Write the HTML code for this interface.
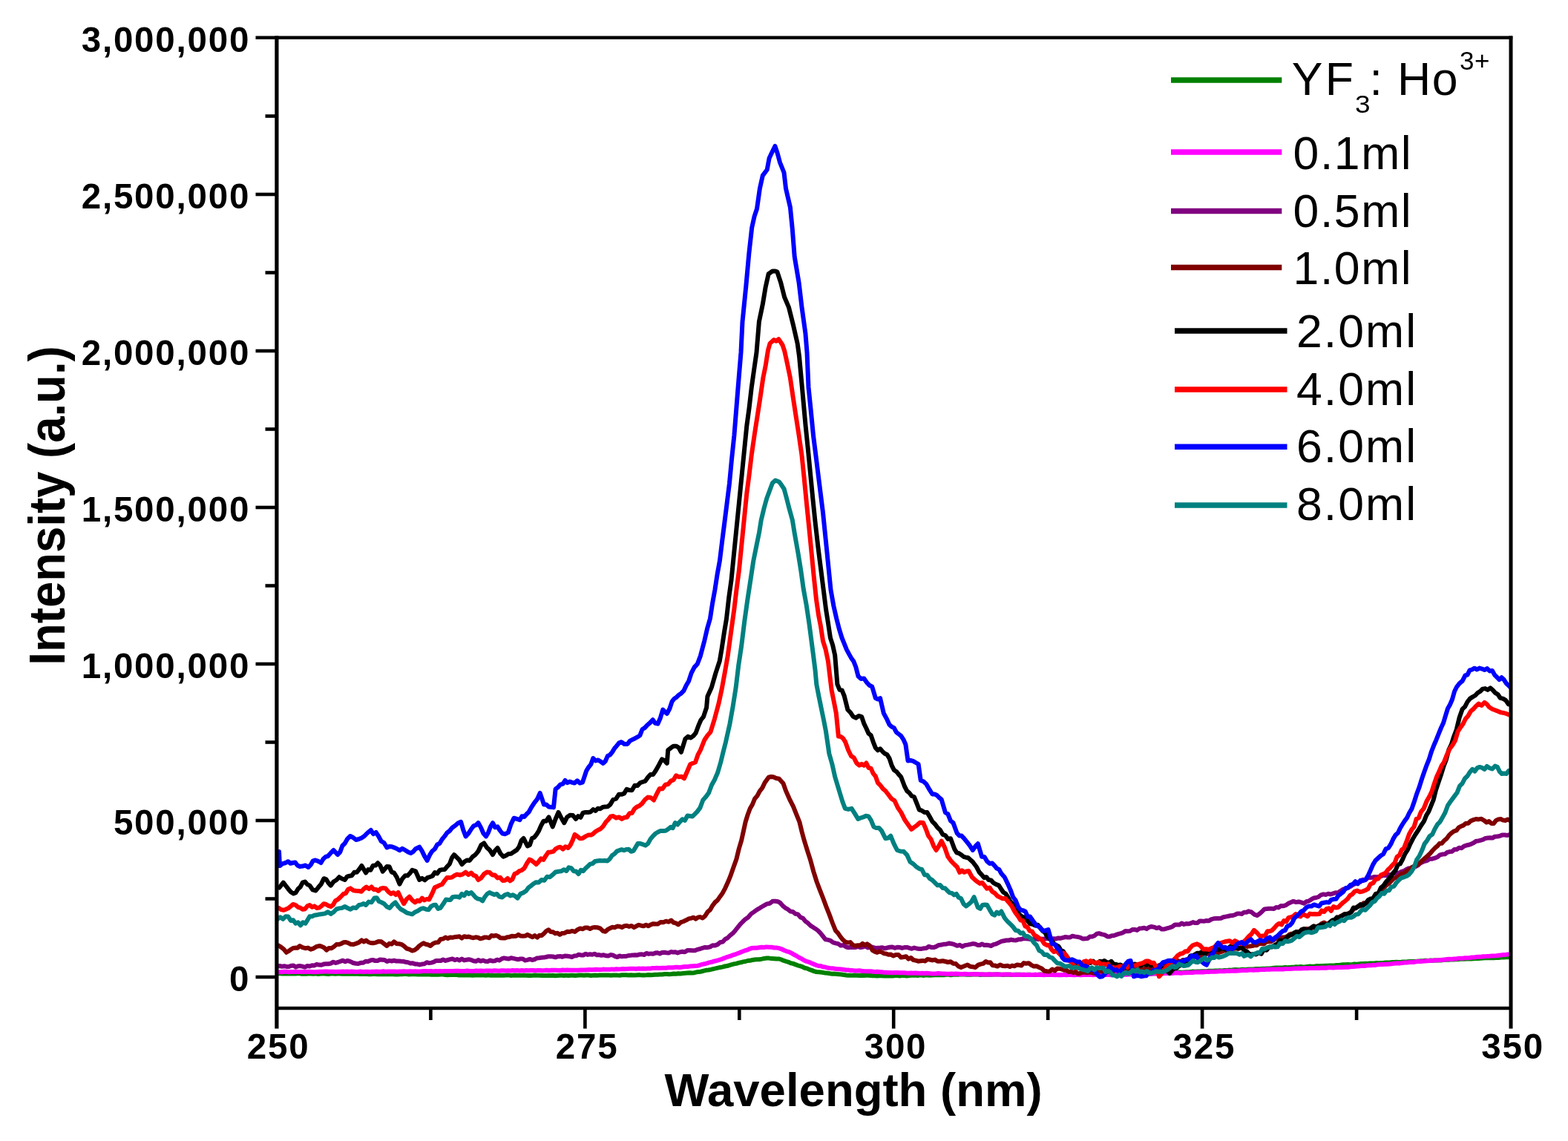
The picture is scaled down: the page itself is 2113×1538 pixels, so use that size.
<!DOCTYPE html>
<html><head><meta charset="utf-8"><title>Intensity vs Wavelength</title>
<style>html,body{margin:0;padding:0;background:#fff;width:2113px;height:1538px;overflow:hidden}svg{display:block}</style>
</head><body>
<svg width="2113" height="1538" viewBox="0 0 2113 1538">
<rect width="100%" height="100%" fill="#ffffff"/>
<clipPath id="pc"><rect x="372.5" y="50.8" width="1663.5" height="1308.2"/></clipPath>
<g clip-path="url(#pc)" fill="none" stroke-linejoin="round" stroke-linecap="round">
<path d="M373.8 1312.3L376.8 1312.1L379.8 1312.5L382.8 1312.5L385.8 1312.2L388.8 1312.4L391.8 1312.4L394.8 1312.5L397.8 1312.6L400.8 1312.2L403.8 1312.2L406.8 1312.7L409.8 1312.5L412.8 1312.7L415.8 1312.2L418.8 1312.5L421.9 1312.7L424.9 1312.4L427.9 1312.9L430.9 1312.8L433.9 1312.3L436.9 1312.4L439.9 1312.7L442.9 1312.9L445.9 1312.6L448.9 1312.5L451.9 1312.7L454.9 1312.5L457.9 1312.6L460.9 1312.7L463.9 1312.8L466.9 1312.6L469.9 1312.7L472.9 1312.7L475.9 1312.8L478.9 1312.7L481.9 1312.6L484.9 1313.1L487.9 1312.9L490.9 1313.0L493.9 1312.8L496.9 1313.3L499.9 1313.2L502.9 1312.8L505.9 1312.9L508.9 1313.2L511.9 1313.2L515.0 1313.3L518.0 1313.0L521.0 1313.3L524.0 1313.2L527.0 1313.0L530.0 1313.2L533.0 1313.4L536.0 1313.4L539.0 1313.2L542.0 1313.3L545.0 1312.9L548.0 1313.1L551.0 1313.4L554.0 1313.2L557.0 1313.1L560.0 1313.3L563.1 1313.4L566.2 1313.5L569.2 1313.5L572.3 1313.4L575.4 1313.5L578.5 1313.6L581.5 1313.8L584.6 1313.7L587.7 1313.7L590.8 1313.8L593.8 1313.5L596.9 1313.6L600.0 1314.0L603.1 1314.2L606.2 1314.0L609.2 1314.0L612.3 1313.9L615.4 1314.1L618.5 1314.5L621.5 1314.4L624.6 1314.3L627.7 1314.5L630.8 1314.2L633.8 1314.4L636.9 1314.7L640.0 1314.5L643.0 1314.6L646.0 1314.5L649.0 1314.4L652.0 1314.6L655.0 1314.8L658.0 1314.3L661.0 1314.8L664.0 1314.8L667.0 1314.8L670.0 1314.8L673.0 1314.8L676.0 1314.7L679.0 1314.7L682.0 1314.6L685.0 1314.4L688.0 1314.9L691.0 1314.8L694.0 1314.5L697.0 1314.7L700.0 1314.7L703.0 1314.7L706.0 1314.7L709.0 1314.8L712.0 1314.9L715.0 1314.9L718.0 1314.8L721.0 1314.6L724.0 1314.7L727.0 1314.7L730.0 1314.9L733.0 1315.1L736.0 1315.1L739.0 1315.1L742.0 1315.1L745.0 1314.8L748.0 1315.2L751.0 1315.1L754.0 1314.7L757.0 1314.7L760.0 1315.0L763.0 1314.7L766.0 1315.1L769.0 1314.8L772.0 1314.7L775.0 1315.0L778.0 1314.8L781.0 1314.6L784.0 1314.6L787.0 1314.8L790.0 1314.6L793.0 1314.6L796.0 1314.9L799.0 1314.7L802.0 1314.6L805.0 1314.7L808.0 1314.4L811.0 1314.6L814.0 1314.6L817.0 1314.4L820.1 1314.4L823.1 1314.8L826.1 1314.6L829.1 1314.4L832.1 1314.6L835.1 1314.7L838.1 1314.2L841.1 1314.2L844.1 1314.2L847.1 1314.5L850.1 1314.2L853.1 1314.5L856.1 1314.5L859.1 1314.3L862.1 1314.1L865.1 1314.6L868.1 1314.4L871.1 1314.3L874.1 1314.1L877.1 1314.2L880.2 1314.1L883.3 1313.8L886.3 1313.8L889.4 1313.5L892.5 1313.5L895.6 1313.0L898.7 1313.0L901.7 1313.2L904.8 1313.0L907.9 1312.5L911.0 1312.7L914.0 1312.2L917.1 1312.4L920.2 1312.1L923.3 1311.8L926.4 1311.5L929.4 1311.2L932.5 1311.6L935.6 1311.2L938.8 1310.3L942.0 1310.1L945.1 1309.5L948.3 1308.6L951.5 1307.8L954.7 1307.5L957.9 1306.9L961.1 1306.1L964.2 1305.4L967.4 1304.6L970.6 1304.0L973.8 1303.4L976.9 1302.5L979.9 1302.0L983.0 1301.1L986.1 1300.2L989.2 1299.3L992.2 1298.9L995.3 1297.9L998.4 1297.3L1001.5 1296.4L1004.5 1296.0L1007.6 1295.0L1010.8 1294.8L1014.0 1293.9L1017.1 1293.5L1020.3 1293.2L1023.5 1293.2L1026.7 1292.6L1029.8 1291.9L1033.0 1291.6L1036.4 1291.6L1039.8 1292.1L1043.1 1292.3L1046.5 1292.6L1049.9 1292.5L1053.0 1293.5L1056.2 1294.9L1059.3 1295.9L1062.5 1296.8L1065.6 1298.2L1068.8 1298.9L1071.9 1300.1L1075.0 1301.3L1078.1 1302.1L1081.3 1303.2L1084.4 1304.7L1087.5 1305.4L1090.6 1306.9L1093.8 1307.9L1096.9 1309.1L1100.0 1310.0L1103.1 1310.3L1106.2 1310.6L1109.2 1310.9L1112.3 1311.6L1115.4 1311.8L1118.5 1312.3L1121.5 1312.7L1124.6 1312.6L1127.7 1313.1L1130.8 1313.2L1133.8 1313.5L1136.9 1313.9L1140.0 1314.5L1143.0 1314.8L1146.0 1314.8L1149.0 1314.8L1152.0 1314.6L1155.0 1314.8L1158.0 1315.0L1161.0 1314.8L1164.0 1314.9L1167.0 1314.8L1170.0 1314.7L1173.0 1314.9L1176.0 1315.3L1179.0 1315.2L1182.0 1315.5L1185.0 1315.2L1188.0 1315.2L1191.0 1315.5L1194.0 1315.6L1197.0 1315.2L1200.0 1315.5L1203.1 1315.5L1206.2 1315.1L1209.4 1315.1L1212.5 1315.5L1215.6 1314.9L1218.8 1315.0L1221.9 1315.4L1225.0 1315.0L1228.1 1314.7L1231.2 1314.7L1234.4 1314.7L1237.5 1314.9L1240.6 1314.4L1243.8 1314.9L1246.9 1314.5L1250.0 1314.5L1253.1 1314.7L1256.2 1314.6L1259.4 1314.2L1262.5 1314.1L1265.6 1314.2L1268.8 1313.9L1271.9 1314.2L1275.0 1313.7L1278.1 1313.6L1281.2 1314.2L1284.4 1313.7L1287.5 1313.8L1290.6 1313.7L1293.8 1313.5L1296.9 1313.3L1300.0 1313.5L1303.0 1313.8L1306.0 1313.8L1309.1 1313.8L1312.1 1313.3L1315.1 1313.4L1318.1 1313.6L1321.2 1313.9L1324.2 1313.6L1327.2 1313.7L1330.2 1313.7L1333.3 1313.5L1336.3 1313.7L1339.3 1313.5L1342.3 1313.5L1345.3 1313.4L1348.4 1313.6L1351.4 1314.0L1354.4 1313.7L1357.4 1313.8L1360.5 1313.8L1363.5 1314.0L1366.5 1313.7L1369.5 1313.7L1372.6 1313.7L1375.6 1313.7L1378.6 1314.0L1381.6 1314.1L1384.7 1313.7L1387.7 1313.7L1390.7 1313.9L1393.7 1313.9L1396.7 1313.9L1399.8 1313.7L1402.8 1313.6L1405.8 1313.8L1408.8 1313.7L1411.9 1314.0L1414.9 1313.7L1417.9 1313.7L1420.9 1314.0L1424.0 1313.9L1427.0 1314.2L1430.0 1314.0L1433.0 1314.0L1436.0 1314.1L1439.0 1313.7L1442.0 1313.9L1445.0 1314.0L1448.0 1313.5L1451.0 1314.0L1454.0 1313.5L1457.0 1313.8L1460.0 1313.9L1463.0 1313.8L1466.0 1313.4L1469.0 1313.3L1472.0 1313.5L1475.0 1313.7L1478.0 1313.3L1481.0 1313.6L1484.0 1313.1L1487.0 1313.5L1490.0 1313.0L1493.0 1313.1L1496.0 1313.4L1499.0 1313.3L1502.0 1313.3L1505.0 1313.3L1508.0 1313.2L1511.0 1313.1L1514.0 1312.8L1517.0 1312.9L1520.0 1312.7L1523.0 1313.0L1526.0 1312.9L1529.0 1312.6L1532.0 1312.5L1535.0 1313.0L1538.0 1312.8L1541.0 1312.6L1544.0 1312.6L1547.0 1312.7L1550.0 1312.5L1553.0 1312.3L1556.1 1312.2L1559.1 1312.0L1562.1 1311.8L1565.2 1311.5L1568.2 1311.8L1571.2 1311.5L1574.2 1311.5L1577.3 1311.0L1580.3 1311.0L1583.3 1310.8L1586.4 1310.6L1589.4 1310.6L1592.4 1310.8L1595.5 1310.4L1598.5 1310.3L1601.5 1310.2L1604.5 1309.9L1607.6 1309.6L1610.6 1309.8L1613.6 1309.6L1616.7 1309.6L1619.7 1309.3L1622.7 1309.3L1625.8 1309.2L1628.8 1308.8L1631.8 1308.8L1634.8 1308.7L1637.9 1308.4L1640.9 1308.4L1643.9 1308.3L1647.0 1308.4L1650.0 1308.0L1653.0 1308.1L1656.0 1307.6L1659.1 1307.7L1662.1 1307.2L1665.1 1307.0L1668.1 1307.2L1671.2 1307.2L1674.2 1306.7L1677.2 1306.9L1680.2 1306.8L1683.3 1306.4L1686.3 1306.4L1689.3 1306.4L1692.3 1306.0L1695.3 1306.0L1698.4 1305.9L1701.4 1305.7L1704.4 1305.7L1707.4 1305.6L1710.5 1305.5L1713.5 1305.1L1716.5 1304.7L1719.5 1304.6L1722.6 1304.5L1725.6 1304.6L1728.6 1304.5L1731.6 1304.0L1734.7 1304.2L1737.7 1304.1L1740.7 1303.7L1743.7 1303.7L1746.7 1303.3L1749.8 1303.5L1752.8 1303.0L1755.8 1303.4L1758.8 1303.2L1761.9 1302.9L1764.9 1302.6L1767.9 1302.8L1770.9 1302.7L1774.0 1302.1L1777.0 1302.3L1780.0 1302.0L1783.0 1302.1L1786.0 1301.8L1789.0 1301.7L1792.0 1301.4L1795.0 1301.5L1798.0 1301.4L1801.0 1300.9L1804.0 1301.0L1807.0 1300.6L1810.0 1300.3L1813.0 1300.2L1816.0 1300.0L1819.0 1300.3L1822.0 1300.2L1825.0 1299.5L1828.0 1299.7L1831.0 1299.4L1834.0 1299.1L1837.0 1299.0L1840.0 1298.8L1843.0 1299.0L1846.0 1298.4L1849.0 1298.4L1852.0 1298.4L1855.0 1298.0L1858.0 1298.2L1861.0 1298.0L1864.0 1298.0L1867.0 1297.5L1870.0 1297.4L1873.0 1297.4L1876.0 1297.1L1879.0 1297.1L1882.0 1296.8L1885.0 1296.9L1888.0 1296.8L1891.0 1296.6L1894.0 1296.6L1897.0 1296.2L1900.0 1296.0L1903.1 1295.9L1906.1 1295.9L1909.2 1295.8L1912.3 1295.5L1915.3 1295.2L1918.4 1295.1L1921.5 1294.8L1924.5 1295.1L1927.6 1294.5L1930.7 1294.8L1933.7 1294.5L1936.8 1294.6L1939.9 1294.4L1942.9 1294.4L1946.0 1293.7L1949.1 1293.8L1952.1 1293.7L1955.2 1293.4L1958.3 1293.4L1961.3 1293.2L1964.4 1293.2L1967.5 1292.7L1970.5 1292.8L1973.6 1292.7L1976.6 1292.5L1979.7 1292.4L1982.8 1292.5L1985.8 1292.3L1988.9 1292.0L1992.0 1292.0L1995.0 1291.7L1998.1 1291.5L2001.2 1291.2L2004.2 1291.2L2007.3 1291.3L2010.4 1291.3L2013.4 1291.2L2016.5 1290.8L2019.6 1291.0L2022.6 1290.5L2025.7 1290.6L2028.8 1290.2L2031.8 1290.3L2034.9 1290.0" stroke="#008000" stroke-width="6.0"/>
<path d="M373.8 1310.0L376.8 1310.3L379.9 1310.3L382.9 1309.7L385.9 1309.7L388.9 1310.2L392.0 1310.1L395.0 1310.1L398.0 1309.8L401.1 1310.0L404.1 1310.0L407.1 1310.0L410.2 1309.7L413.2 1309.9L416.2 1309.8L419.2 1310.0L422.3 1310.2L425.3 1310.2L428.3 1309.9L431.4 1309.8L434.4 1309.7L437.4 1309.6L440.5 1309.6L443.5 1309.8L446.5 1309.7L449.6 1309.8L452.6 1310.1L455.6 1309.8L458.6 1309.8L461.7 1309.6L464.7 1309.8L467.8 1309.5L470.8 1309.7L473.9 1309.5L476.9 1309.7L480.0 1310.0L483.0 1309.8L486.1 1309.5L489.1 1309.9L492.2 1309.8L495.2 1309.8L498.3 1309.9L501.3 1309.8L504.4 1309.8L507.4 1309.5L510.5 1309.8L513.5 1309.8L516.6 1309.3L519.6 1309.7L522.7 1309.6L525.7 1309.5L528.8 1309.5L531.8 1309.4L534.9 1309.7L537.9 1309.4L541.0 1309.6L544.0 1309.3L547.1 1309.6L550.1 1309.6L553.2 1309.3L556.2 1309.4L559.3 1309.3L562.4 1309.5L565.4 1309.4L568.5 1309.2L571.5 1309.0L574.6 1309.1L577.6 1309.3L580.7 1308.9L583.7 1309.4L586.8 1309.0L589.8 1309.3L592.9 1308.9L596.0 1309.3L599.0 1309.1L602.1 1309.0L605.1 1309.0L608.2 1309.0L611.2 1309.0L614.3 1308.8L617.3 1308.7L620.4 1308.9L623.5 1309.1L626.5 1308.9L629.6 1308.5L632.6 1309.0L635.7 1308.9L638.7 1309.0L641.8 1308.5L644.8 1308.8L647.9 1308.4L650.9 1308.7L654.0 1308.6L657.1 1308.4L660.1 1308.4L663.2 1308.8L666.3 1308.3L669.3 1308.5L672.4 1308.7L675.5 1308.3L678.5 1308.3L681.6 1308.6L684.7 1308.3L687.7 1308.5L690.8 1308.1L693.9 1308.2L696.9 1308.1L700.0 1308.4L703.1 1308.0L706.1 1308.5L709.2 1307.9L712.3 1308.3L715.4 1307.9L718.4 1308.0L721.5 1308.3L724.6 1307.9L727.6 1307.9L730.7 1308.2L733.8 1308.0L736.8 1307.7L739.9 1308.3L743.0 1307.8L746.0 1307.7L749.1 1307.8L752.2 1308.0L755.2 1308.0L758.3 1307.6L761.4 1307.7L764.4 1307.5L767.5 1307.8L770.5 1307.7L773.5 1307.8L776.5 1307.8L779.5 1307.8L782.5 1307.6L785.5 1307.6L788.5 1307.5L791.5 1307.3L794.5 1307.1L797.5 1307.3L800.5 1307.0L803.5 1306.8L806.5 1306.9L809.5 1307.1L812.5 1306.6L815.6 1306.8L818.6 1306.7L821.6 1306.7L824.6 1306.4L827.6 1306.8L830.6 1306.3L833.6 1306.5L836.6 1306.3L839.6 1306.0L842.6 1306.3L845.6 1305.9L848.6 1305.8L851.6 1305.7L854.6 1305.8L857.6 1305.9L860.7 1305.6L863.8 1305.8L866.8 1305.6L869.9 1305.8L873.0 1305.6L876.1 1305.6L879.2 1305.0L882.2 1305.0L885.3 1304.8L888.4 1304.9L891.5 1304.8L894.5 1304.8L897.6 1304.7L900.7 1304.3L903.8 1304.3L906.9 1304.2L909.9 1303.8L913.0 1303.7L916.1 1303.9L919.5 1303.5L922.9 1303.1L926.3 1303.1L929.8 1302.5L933.2 1302.2L936.6 1301.9L940.0 1301.8L943.2 1300.8L946.4 1299.9L949.5 1299.3L952.7 1298.4L955.9 1297.4L959.0 1296.8L962.2 1295.7L965.4 1295.0L968.6 1294.2L971.7 1293.2L974.9 1291.9L978.0 1290.7L981.2 1289.7L984.4 1288.7L987.5 1287.3L990.7 1286.5L993.8 1285.3L997.0 1284.1L1000.1 1282.7L1003.3 1281.5L1006.4 1280.7L1009.6 1279.2L1012.7 1278.1L1016.1 1277.8L1019.5 1277.8L1022.9 1277.3L1026.2 1276.8L1029.6 1277.0L1033.0 1276.4L1036.4 1276.7L1039.8 1276.8L1043.1 1277.5L1046.5 1277.5L1049.9 1278.1L1053.3 1279.3L1056.7 1281.0L1060.0 1282.3L1063.4 1283.2L1066.8 1284.9L1070.2 1286.8L1073.6 1288.7L1076.9 1290.7L1080.3 1292.4L1083.7 1294.5L1087.0 1295.9L1090.2 1296.8L1093.5 1298.3L1096.7 1299.6L1100.0 1301.0L1103.0 1302.0L1106.0 1302.1L1109.0 1303.3L1112.0 1303.6L1115.0 1304.5L1118.1 1304.9L1121.2 1305.2L1124.4 1305.6L1127.5 1306.2L1130.6 1306.3L1133.8 1306.5L1136.9 1306.9L1140.0 1307.5L1143.0 1307.4L1146.0 1308.1L1149.0 1308.1L1152.0 1308.5L1155.0 1308.5L1158.0 1308.3L1161.0 1308.8L1164.0 1309.1L1167.0 1309.2L1170.0 1309.2L1173.0 1309.3L1176.0 1309.6L1179.0 1310.0L1182.0 1309.8L1185.0 1310.1L1188.0 1310.3L1191.0 1310.7L1194.0 1310.8L1197.0 1311.1L1200.0 1311.0L1203.0 1311.3L1206.1 1311.0L1209.1 1311.0L1212.2 1311.3L1215.2 1311.2L1218.3 1311.3L1221.3 1311.6L1224.3 1311.8L1227.4 1311.6L1230.4 1311.8L1233.5 1311.5L1236.5 1311.7L1239.6 1312.1L1242.6 1311.7L1245.7 1311.9L1248.7 1311.8L1251.7 1311.9L1254.8 1312.4L1257.8 1312.5L1260.9 1312.4L1263.9 1312.1L1267.0 1312.3L1270.0 1312.5L1273.0 1312.4L1276.1 1312.7L1279.1 1312.7L1282.2 1312.6L1285.2 1312.7L1288.3 1312.5L1291.3 1312.8L1294.3 1313.1L1297.4 1313.0L1300.4 1312.7L1303.5 1313.0L1306.5 1313.2L1309.6 1312.9L1312.6 1313.3L1315.7 1313.1L1318.7 1313.3L1321.7 1313.2L1324.8 1313.6L1327.8 1313.5L1330.9 1313.4L1333.9 1313.2L1337.0 1313.4L1340.0 1313.5L1343.0 1313.2L1346.1 1313.6L1349.1 1313.8L1352.1 1313.4L1355.2 1313.6L1358.2 1313.6L1361.2 1313.6L1364.3 1313.8L1367.3 1313.9L1370.3 1313.8L1373.4 1313.7L1376.4 1314.0L1379.4 1313.6L1382.5 1313.9L1385.5 1313.9L1388.6 1313.9L1391.6 1314.0L1394.6 1313.6L1397.7 1313.9L1400.7 1313.8L1403.7 1314.0L1406.8 1314.2L1409.8 1314.0L1412.8 1313.6L1415.9 1313.9L1418.9 1314.1L1421.9 1314.2L1425.0 1314.1L1428.0 1314.0L1431.0 1314.2L1434.0 1313.7L1437.0 1314.3L1440.0 1314.1L1443.0 1314.1L1446.0 1314.2L1449.0 1314.2L1452.0 1313.8L1455.0 1314.2L1458.0 1314.2L1461.0 1313.8L1464.0 1314.1L1467.0 1314.1L1470.0 1313.8L1473.0 1314.2L1476.0 1313.8L1479.0 1314.1L1482.0 1314.0L1485.0 1313.9L1488.0 1314.0L1491.0 1314.0L1494.0 1313.8L1497.0 1314.3L1500.0 1314.0L1503.0 1313.7L1506.1 1313.5L1509.1 1313.8L1512.2 1313.9L1515.2 1313.7L1518.3 1313.7L1521.3 1313.4L1524.4 1313.5L1527.4 1313.2L1530.5 1313.1L1533.5 1313.1L1536.6 1312.8L1539.6 1312.7L1542.7 1313.0L1545.7 1312.6L1548.8 1312.9L1551.8 1312.8L1554.9 1312.5L1557.9 1312.6L1561.0 1312.6L1564.0 1312.5L1567.1 1312.0L1570.1 1312.0L1573.2 1312.0L1576.2 1312.0L1579.3 1311.9L1582.4 1311.6L1585.5 1311.3L1588.5 1311.5L1591.6 1311.7L1594.7 1311.2L1597.8 1311.2L1600.9 1311.0L1604.0 1310.9L1607.1 1311.0L1610.2 1310.5L1613.2 1310.6L1616.3 1310.4L1619.4 1310.3L1622.5 1310.4L1625.6 1309.8L1628.7 1310.1L1631.8 1309.7L1634.9 1309.8L1637.9 1309.7L1641.0 1309.5L1644.1 1309.3L1647.2 1309.2L1650.2 1309.3L1653.3 1308.7L1656.3 1308.9L1659.3 1308.7L1662.4 1308.6L1665.4 1308.7L1668.4 1308.6L1671.5 1308.3L1674.5 1308.0L1677.5 1307.9L1680.6 1307.9L1683.6 1307.6L1686.6 1307.5L1689.7 1307.8L1692.7 1307.2L1695.7 1307.5L1698.8 1307.1L1701.8 1307.0L1704.8 1306.9L1707.9 1306.6L1710.9 1306.7L1713.9 1306.4L1717.0 1306.5L1720.0 1306.4L1723.0 1306.2L1726.1 1306.5L1729.1 1306.4L1732.2 1306.0L1735.2 1306.0L1738.3 1306.1L1741.3 1305.7L1744.4 1305.4L1747.4 1305.4L1750.5 1305.3L1753.5 1305.5L1756.6 1305.2L1759.6 1305.1L1762.7 1305.3L1765.7 1304.9L1768.8 1305.1L1771.8 1304.9L1774.9 1304.7L1777.9 1304.9L1781.0 1304.5L1784.0 1304.7L1787.1 1304.7L1790.1 1304.3L1793.2 1304.3L1796.2 1304.4L1799.3 1304.2L1802.3 1304.1L1805.4 1304.1L1808.4 1304.0L1811.5 1303.8L1814.5 1303.6L1817.5 1303.7L1820.5 1303.0L1823.5 1303.0L1826.6 1302.8L1829.6 1302.4L1832.6 1302.2L1835.6 1301.8L1838.6 1302.1L1841.6 1301.5L1844.6 1301.3L1847.6 1301.3L1850.7 1300.7L1853.7 1300.9L1856.7 1300.2L1859.7 1299.9L1862.7 1299.9L1865.7 1299.7L1868.7 1299.8L1871.8 1299.5L1874.8 1299.2L1877.8 1298.8L1880.8 1298.6L1883.8 1298.2L1886.8 1298.4L1889.8 1297.9L1892.8 1297.6L1895.9 1297.6L1898.9 1297.1L1901.9 1296.9L1904.9 1297.1L1907.9 1296.3L1910.9 1296.1L1913.9 1296.0L1916.9 1295.8L1920.0 1295.6L1923.0 1295.3L1926.0 1295.1L1929.0 1295.0L1932.0 1294.6L1935.1 1294.4L1938.1 1294.3L1941.1 1293.9L1944.1 1293.7L1947.2 1293.7L1950.2 1293.0L1953.2 1292.8L1956.2 1293.0L1959.3 1292.5L1962.3 1292.5L1965.3 1291.8L1968.3 1291.8L1971.4 1291.8L1974.4 1291.2L1977.4 1291.2L1980.4 1290.9L1983.5 1290.5L1986.5 1290.6L1989.5 1290.0L1992.5 1289.8L1995.6 1289.7L1998.6 1289.2L2001.6 1289.3L2004.6 1288.9L2007.7 1288.7L2010.7 1288.4L2013.7 1288.4L2016.7 1288.2L2019.8 1287.8L2022.8 1287.4L2025.8 1287.1L2028.8 1286.9L2031.9 1286.4L2034.9 1286.4" stroke="#FF00FF" stroke-width="6.0"/>
<path d="M373.8 1302.6L376.9 1302.0L380.0 1302.7L383.1 1302.3L386.2 1302.9L389.3 1303.0L392.4 1301.7L395.5 1301.6L398.6 1303.6L401.7 1302.2L404.8 1302.1L407.9 1302.8L411.1 1303.6L414.2 1302.0L417.4 1302.5L420.5 1301.3L423.7 1301.4L426.8 1299.8L430.0 1300.6L433.1 1300.8L436.3 1299.6L439.5 1299.2L442.7 1299.2L445.9 1298.6L449.1 1296.7L452.4 1297.9L455.6 1297.0L458.8 1295.8L462.0 1294.7L465.2 1296.2L468.4 1294.9L472.2 1296.1L476.0 1298.0L479.8 1298.7L483.0 1298.9L486.3 1297.8L489.5 1297.7L492.8 1295.7L496.0 1296.0L499.3 1294.5L502.5 1293.9L505.7 1295.1L508.8 1295.1L512.0 1293.4L515.1 1293.7L518.3 1294.0L521.5 1296.0L524.6 1294.9L527.8 1295.5L530.9 1294.8L534.1 1295.5L537.2 1295.4L540.4 1295.8L543.6 1295.9L546.7 1296.8L549.9 1297.3L553.0 1298.5L556.2 1298.3L559.3 1299.4L562.5 1299.6L565.6 1300.4L568.8 1299.6L571.9 1299.2L575.1 1297.2L578.2 1298.1L581.4 1297.6L584.6 1296.7L587.7 1294.9L590.8 1294.9L594.0 1295.0L597.1 1293.6L600.3 1294.9L603.4 1294.0L606.6 1293.1L609.7 1292.4L612.9 1294.1L616.0 1293.0L619.2 1294.4L622.3 1292.5L625.5 1294.4L628.7 1293.7L631.8 1293.3L635.0 1293.9L638.2 1295.3L641.3 1295.8L644.5 1294.0L647.7 1295.6L650.8 1294.5L654.0 1295.8L657.2 1295.9L660.3 1294.5L663.5 1295.4L666.6 1295.3L669.8 1293.7L672.9 1294.5L676.1 1292.4L679.2 1291.4L682.4 1292.0L685.6 1292.5L688.7 1291.3L691.9 1291.9L695.0 1292.6L698.2 1293.3L701.3 1292.4L704.5 1292.4L707.6 1294.6L710.8 1293.9L713.9 1292.9L717.1 1294.0L720.2 1293.3L723.4 1291.5L726.5 1291.2L729.7 1290.8L732.8 1290.6L736.0 1290.0L739.1 1289.2L742.3 1289.3L745.4 1289.5L748.6 1290.3L751.7 1289.2L754.9 1289.0L758.0 1289.7L761.2 1288.6L764.3 1288.7L767.5 1289.2L770.6 1290.0L773.6 1288.6L776.7 1288.3L779.8 1286.7L782.8 1287.4L785.9 1287.5L789.0 1285.8L792.0 1286.9L795.1 1286.3L798.2 1286.8L801.2 1285.7L804.3 1287.2L807.4 1287.1L810.4 1287.8L813.5 1287.2L816.5 1288.3L819.6 1288.6L822.7 1287.1L825.7 1287.4L828.8 1289.1L831.9 1290.0L834.9 1288.5L838.0 1289.3L841.0 1288.9L844.0 1288.9L847.0 1288.0L850.0 1287.8L853.0 1287.4L856.0 1287.2L859.1 1287.4L862.1 1286.4L865.1 1286.3L868.1 1287.0L871.1 1284.9L874.1 1285.9L877.1 1285.4L880.1 1285.8L883.1 1284.6L886.1 1284.3L889.1 1285.5L892.1 1284.0L895.1 1283.7L898.1 1284.2L901.1 1284.6L904.1 1283.1L907.1 1283.4L910.1 1283.3L913.1 1284.4L916.1 1283.4L919.5 1282.7L922.9 1283.2L926.3 1281.1L929.8 1281.0L933.2 1281.2L936.6 1281.2L940.0 1279.8L943.4 1279.0L946.8 1277.8L950.1 1276.9L953.5 1277.2L956.9 1276.4L960.3 1274.3L963.7 1274.4L967.0 1273.1L970.4 1270.2L973.8 1269.6L977.2 1266.0L980.6 1264.3L983.9 1260.8L987.3 1258.2L990.7 1254.4L994.1 1250.2L997.5 1245.9L1000.8 1242.5L1004.2 1239.2L1008.2 1236.5L1012.1 1231.9L1016.1 1229.1L1019.5 1226.6L1022.8 1224.7L1026.2 1222.5L1029.6 1220.6L1033.5 1218.4L1037.5 1217.7L1041.4 1214.7L1044.8 1214.7L1048.2 1215.2L1051.6 1217.2L1055.0 1221.1L1058.3 1223.8L1061.7 1225.7L1065.1 1228.5L1068.5 1228.9L1071.8 1231.8L1075.2 1232.4L1078.6 1236.4L1082.0 1237.7L1085.4 1241.9L1088.8 1244.3L1092.2 1247.6L1095.5 1249.7L1098.9 1251.9L1102.3 1254.4L1105.7 1257.9L1109.0 1262.0L1112.4 1266.3L1115.8 1266.9L1119.2 1267.8L1122.6 1270.3L1126.0 1271.3L1129.5 1272.1L1133.0 1274.6L1136.5 1274.0L1140.0 1276.4L1143.3 1277.3L1146.5 1276.7L1149.8 1277.1L1153.0 1277.0L1156.3 1275.9L1159.6 1277.1L1162.9 1276.5L1166.2 1275.4L1169.5 1277.4L1172.8 1276.2L1176.1 1276.8L1179.4 1277.9L1182.7 1277.7L1186.0 1277.6L1189.3 1277.3L1192.6 1278.4L1195.8 1277.5L1199.1 1276.8L1202.4 1276.4L1205.7 1277.8L1209.0 1276.8L1212.3 1277.0L1215.6 1277.9L1218.9 1277.1L1222.2 1276.9L1225.4 1277.9L1228.7 1278.8L1232.0 1277.5L1235.3 1278.5L1238.6 1278.9L1241.9 1278.9L1245.2 1278.3L1248.4 1278.0L1251.7 1275.7L1255.0 1276.9L1258.3 1277.1L1261.6 1275.9L1265.1 1273.9L1268.6 1273.6L1272.2 1272.7L1275.7 1272.4L1279.2 1271.5L1282.7 1272.2L1286.2 1273.2L1289.8 1274.8L1293.3 1273.8L1296.8 1275.9L1300.3 1274.1L1303.8 1273.6L1307.3 1272.9L1310.8 1272.1L1314.3 1272.4L1317.3 1273.9L1320.3 1274.0L1323.3 1272.5L1326.4 1273.9L1329.4 1273.8L1332.4 1274.2L1335.4 1275.0L1338.9 1273.1L1342.4 1272.3L1345.9 1270.6L1349.4 1268.9L1352.7 1268.2L1356.0 1267.5L1359.3 1267.5L1362.6 1266.6L1365.8 1267.3L1369.1 1267.4L1372.4 1266.3L1375.7 1266.2L1379.0 1265.1L1382.3 1265.2L1385.6 1265.6L1388.9 1266.1L1392.2 1266.4L1395.5 1265.3L1398.8 1266.2L1402.1 1265.4L1405.7 1265.7L1409.3 1265.2L1412.8 1265.0L1416.4 1265.2L1420.0 1265.2L1423.2 1265.4L1426.3 1264.4L1429.5 1264.7L1432.6 1263.9L1435.8 1263.0L1438.9 1263.4L1442.1 1263.5L1445.2 1261.7L1448.4 1262.4L1452.0 1262.9L1455.5 1263.6L1459.0 1265.4L1462.6 1265.2L1465.7 1265.1L1468.7 1262.5L1471.8 1262.6L1474.9 1261.2L1477.9 1258.7L1481.0 1258.1L1484.8 1259.4L1488.6 1260.1L1492.4 1262.4L1495.4 1262.4L1498.4 1261.2L1501.4 1261.0L1504.4 1259.9L1507.4 1258.9L1510.4 1258.2L1513.4 1257.0L1516.4 1255.1L1519.4 1255.3L1522.6 1255.0L1525.9 1253.1L1529.1 1252.9L1532.3 1253.9L1535.5 1251.6L1538.8 1251.2L1542.0 1250.7L1545.2 1252.1L1548.4 1249.9L1551.7 1249.0L1554.9 1249.6L1558.5 1251.1L1562.0 1250.1L1565.5 1252.5L1569.1 1252.4L1572.6 1251.3L1576.2 1250.3L1579.8 1249.1L1583.3 1246.5L1586.3 1246.4L1589.4 1246.6L1592.4 1244.5L1595.5 1246.0L1598.5 1245.1L1601.6 1245.3L1604.6 1244.5L1607.6 1243.1L1610.7 1244.1L1613.7 1244.0L1616.8 1241.4L1619.8 1241.6L1622.9 1241.7L1625.9 1241.0L1629.1 1241.2L1632.4 1239.1L1635.6 1238.3L1638.8 1237.9L1642.0 1238.1L1645.3 1237.8L1648.5 1236.3L1651.7 1235.6L1654.9 1235.0L1658.2 1234.3L1661.4 1234.0L1664.4 1233.0L1667.5 1231.4L1670.5 1231.6L1673.6 1231.9L1676.6 1229.7L1679.7 1229.7L1682.7 1228.3L1686.5 1229.4L1690.2 1232.6L1694.0 1234.0L1697.3 1231.7L1700.7 1228.7L1704.0 1225.4L1707.2 1225.1L1710.3 1224.7L1713.5 1224.7L1716.6 1225.0L1719.8 1222.9L1722.9 1223.4L1726.2 1221.0L1729.6 1221.2L1732.9 1220.1L1736.2 1217.8L1739.6 1216.2L1742.9 1214.9L1746.5 1216.1L1750.1 1215.5L1753.6 1216.4L1757.2 1217.7L1760.5 1215.3L1763.7 1214.6L1767.0 1212.4L1770.3 1210.5L1773.6 1210.0L1776.8 1209.0L1780.1 1206.3L1783.4 1205.4L1786.6 1206.0L1789.9 1204.8L1793.2 1205.5L1796.5 1204.4L1799.7 1203.3L1803.0 1203.4L1806.4 1201.0L1809.9 1198.8L1813.3 1198.2L1816.8 1196.2L1820.2 1194.8L1823.5 1192.4L1826.7 1191.2L1830.0 1189.5L1833.3 1188.9L1836.6 1185.8L1839.8 1186.2L1843.1 1183.4L1846.3 1182.9L1849.5 1182.7L1852.6 1181.9L1855.8 1182.2L1859.0 1181.7L1862.2 1180.6L1865.3 1179.9L1868.5 1180.0L1871.7 1179.0L1875.1 1179.0L1878.5 1177.1L1881.8 1177.1L1885.2 1176.8L1888.6 1174.8L1892.0 1174.0L1895.1 1172.0L1898.2 1170.6L1901.4 1170.3L1904.5 1168.8L1907.6 1168.1L1910.7 1166.4L1913.8 1163.6L1917.0 1162.1L1920.1 1160.8L1923.2 1160.0L1926.7 1157.8L1930.1 1157.7L1933.6 1156.6L1937.1 1155.3L1940.5 1152.3L1944.0 1151.5L1947.2 1151.3L1950.3 1148.9L1953.5 1148.1L1956.7 1147.7L1959.8 1145.1L1963.0 1145.0L1966.3 1142.7L1969.6 1143.2L1972.9 1140.6L1976.1 1139.5L1979.4 1138.8L1982.7 1137.7L1986.0 1136.0L1989.2 1133.7L1992.3 1133.4L1995.5 1132.6L1998.7 1131.6L2001.8 1129.9L2005.0 1129.5L2008.1 1129.2L2011.2 1129.6L2014.4 1127.7L2017.5 1127.6L2020.6 1127.0L2024.2 1125.6L2027.8 1125.5L2031.3 1125.9L2034.9 1125.0L2040.0 1124.0" stroke="#800080" stroke-width="6.0"/>
<path d="M375.0 1274.3L378.7 1276.6L382.3 1279.4L386.0 1283.8L389.0 1282.0L392.0 1279.8L395.0 1278.0L398.0 1277.6L401.0 1277.8L404.0 1275.0L407.7 1277.1L411.4 1278.2L415.0 1277.6L418.7 1279.7L422.7 1278.3L426.6 1275.9L430.6 1275.0L433.7 1275.9L436.9 1277.5L440.0 1280.7L443.3 1277.9L446.6 1278.3L450.0 1276.1L453.3 1273.1L456.5 1273.1L459.6 1272.2L462.8 1270.3L466.1 1270.0L469.4 1271.1L472.7 1272.8L476.0 1273.1L479.8 1271.9L483.6 1270.4L487.4 1267.4L490.4 1269.4L493.4 1267.6L496.5 1270.0L499.5 1271.0L502.5 1271.2L506.3 1270.6L510.1 1268.9L513.9 1269.3L517.6 1272.1L521.4 1275.0L524.6 1271.8L527.8 1272.6L531.0 1269.3L534.3 1271.9L537.6 1272.3L540.9 1272.9L544.2 1275.0L548.0 1278.5L551.7 1279.6L555.5 1281.6L558.5 1280.7L561.6 1278.6L564.6 1275.4L567.7 1273.0L570.7 1271.2L573.8 1272.8L577.0 1273.5L580.1 1275.0L583.5 1272.0L586.9 1270.6L590.4 1270.3L593.8 1265.9L597.2 1265.5L600.3 1263.6L603.5 1265.0L606.6 1263.4L609.7 1263.7L612.9 1263.1L616.0 1262.7L619.2 1262.3L622.3 1264.6L625.5 1262.2L628.7 1263.0L631.8 1262.5L635.0 1263.6L638.0 1264.2L641.1 1263.3L644.1 1263.7L647.2 1265.2L650.2 1264.6L653.2 1263.4L656.2 1263.6L659.3 1264.2L662.3 1261.0L665.3 1261.7L668.3 1260.9L671.4 1262.0L674.4 1264.3L677.5 1264.4L680.5 1264.6L683.5 1263.2L686.5 1262.9L689.6 1261.8L692.6 1262.1L695.6 1261.7L698.6 1259.9L701.7 1261.6L704.7 1261.8L707.8 1261.6L710.8 1259.8L714.1 1261.5L717.4 1263.2L720.7 1261.1L724.0 1263.6L727.0 1260.8L730.0 1260.9L733.1 1258.2L736.1 1255.0L739.1 1253.2L742.1 1255.9L745.2 1256.2L748.2 1258.2L751.3 1257.8L754.3 1259.8L757.6 1257.9L760.9 1257.7L764.2 1255.8L767.5 1256.0L771.1 1254.9L774.7 1256.0L778.2 1253.2L781.8 1251.4L785.4 1252.2L788.6 1250.4L791.9 1250.5L795.1 1252.1L798.4 1250.4L801.6 1249.9L804.9 1250.2L808.8 1251.4L812.7 1255.1L815.8 1255.7L818.9 1252.9L822.1 1251.2L825.2 1249.8L828.3 1250.2L831.6 1248.6L834.8 1248.7L838.1 1250.1L841.3 1248.2L844.6 1247.7L847.8 1248.9L851.1 1247.9L854.3 1250.1L857.6 1248.3L860.8 1246.8L864.1 1247.7L867.3 1248.2L870.6 1246.7L873.8 1248.2L877.1 1246.3L880.3 1245.2L883.6 1245.4L886.8 1245.4L890.3 1242.9L893.8 1243.2L897.4 1241.7L900.9 1242.7L904.4 1240.5L907.6 1243.5L910.9 1244.4L914.1 1246.3L917.6 1243.1L921.1 1242.0L924.7 1240.3L928.2 1238.4L931.7 1237.6L934.7 1236.7L937.7 1238.7L940.8 1236.4L943.8 1236.1L946.8 1237.5L950.2 1234.6L953.5 1229.3L956.9 1226.4L960.3 1220.6L963.7 1216.1L967.0 1213.4L970.4 1208.4L973.8 1203.7L977.2 1197.3L980.6 1189.8L984.0 1181.7L988.2 1169.8L992.4 1158.0L995.8 1144.0L999.2 1132.7L1004.6 1108.0L1007.7 1098.0L1010.8 1089.8L1013.9 1084.5L1017.0 1076.8L1020.4 1072.9L1023.8 1066.4L1027.2 1062.1L1030.6 1055.0L1035.8 1047.7L1038.9 1046.9L1042.0 1047.2L1045.9 1049.0L1049.8 1049.8L1055.5 1056.0L1059.2 1066.4L1063.8 1076.8L1069.0 1087.2L1073.2 1097.6L1077.4 1108.0L1080.6 1121.3L1083.7 1132.7L1088.0 1146.7L1092.2 1159.7L1096.4 1175.1L1100.6 1188.5L1104.8 1199.6L1109.1 1210.5L1113.3 1221.9L1117.5 1232.4L1121.8 1244.0L1126.0 1254.4L1129.3 1257.9L1132.7 1262.9L1135.9 1266.8L1139.1 1269.5L1142.3 1270.6L1145.8 1270.1L1149.3 1273.9L1152.8 1274.8L1156.3 1274.2L1159.4 1274.3L1162.4 1271.8L1165.5 1274.1L1168.6 1272.4L1172.1 1274.7L1175.6 1280.9L1179.1 1282.9L1182.1 1283.9L1185.1 1282.5L1188.1 1283.3L1191.2 1285.3L1194.2 1285.6L1197.2 1286.7L1200.2 1286.4L1203.7 1288.5L1207.2 1286.9L1210.8 1287.0L1214.3 1290.6L1217.8 1290.0L1221.1 1289.2L1224.3 1292.7L1227.6 1291.0L1230.8 1294.0L1234.1 1294.6L1237.3 1295.7L1240.6 1295.2L1243.7 1294.9L1246.8 1295.6L1249.8 1293.0L1252.9 1293.5L1256.4 1294.4L1259.9 1293.6L1263.4 1295.8L1266.9 1295.7L1270.4 1295.2L1273.9 1296.0L1277.5 1297.0L1281.0 1296.3L1284.5 1298.7L1288.0 1299.0L1291.5 1302.5L1295.0 1304.0L1299.4 1302.2L1303.8 1300.5L1307.3 1302.8L1310.8 1303.2L1314.3 1304.0L1317.8 1300.9L1321.3 1299.6L1324.9 1298.9L1328.4 1296.1L1331.5 1297.5L1334.5 1297.2L1337.5 1301.2L1340.6 1301.4L1344.1 1302.6L1347.7 1300.5L1351.2 1302.1L1354.7 1302.2L1357.8 1301.8L1360.8 1303.1L1363.9 1301.6L1367.0 1302.2L1370.2 1300.6L1373.3 1300.8L1376.5 1301.6L1379.6 1298.1L1382.8 1298.7L1386.3 1298.3L1389.8 1300.8L1393.3 1302.6L1396.8 1302.2L1400.3 1304.0L1403.8 1305.5L1407.4 1308.7L1410.9 1309.3L1414.4 1309.5L1417.9 1306.5L1421.4 1308.4L1424.9 1305.4L1428.4 1305.7L1434.2 1307.8L1437.2 1307.8L1440.3 1310.1L1443.3 1309.4L1446.4 1311.2L1449.4 1309.7L1452.5 1312.6L1455.5 1312.0L1458.7 1310.8L1461.9 1310.4L1465.0 1311.3L1468.2 1310.6L1471.4 1311.1L1474.6 1312.0L1477.8 1311.2L1480.9 1308.7L1484.1 1309.5L1487.3 1310.0L1490.5 1309.6L1493.6 1310.1L1496.8 1309.2L1500.0 1309.0L1503.1 1307.4L1506.2 1307.7L1509.4 1309.4L1512.5 1307.5L1515.6 1308.6L1518.8 1309.1L1521.9 1307.7L1525.0 1307.6L1528.1 1307.1L1531.2 1305.9L1534.4 1307.6L1537.5 1305.9L1540.6 1307.1L1543.8 1304.9L1546.9 1306.4L1550.0 1305.0L1553.1 1305.2L1556.2 1303.9L1559.4 1302.6L1562.5 1300.9L1565.6 1302.1L1568.8 1300.1L1571.9 1300.3L1575.0 1297.8L1578.1 1296.9L1581.2 1296.4L1584.4 1297.7L1587.5 1295.0L1590.6 1296.5L1593.8 1294.1L1596.9 1294.0L1600.0 1293.0L1603.1 1291.8L1606.2 1291.9L1609.4 1289.4L1612.5 1289.7L1615.6 1290.6L1618.8 1287.5L1621.9 1288.2L1625.0 1286.4L1628.1 1285.6L1631.2 1284.0L1634.4 1283.2L1637.5 1285.4L1640.6 1284.3L1643.8 1283.5L1646.9 1282.7L1650.0 1281.0L1653.1 1281.9L1656.2 1278.8L1659.4 1279.6L1662.5 1278.7L1665.6 1278.4L1668.8 1279.0L1671.9 1277.9L1675.0 1278.0L1678.1 1274.7L1681.2 1275.9L1684.4 1275.4L1687.5 1275.0L1690.6 1274.1L1693.8 1274.2L1696.9 1271.9L1700.0 1272.0L1703.1 1272.4L1706.2 1269.7L1709.4 1269.3L1712.5 1269.3L1715.6 1267.7L1718.8 1265.4L1721.9 1264.1L1725.0 1263.4L1728.1 1263.4L1731.2 1263.6L1734.4 1262.3L1737.5 1259.7L1740.6 1258.7L1743.8 1259.0L1746.9 1256.3L1750.0 1256.0L1753.1 1254.7L1756.2 1252.4L1759.4 1252.0L1762.5 1252.1L1765.6 1251.6L1768.8 1250.4L1771.9 1248.6L1775.0 1249.4L1778.1 1247.4L1781.2 1244.9L1784.4 1243.6L1787.5 1245.5L1790.6 1244.6L1793.8 1243.3L1796.9 1241.3L1800.0 1240.0L1803.1 1237.6L1806.2 1235.1L1809.4 1233.8L1812.5 1231.9L1815.6 1232.3L1818.8 1230.4L1821.9 1228.2L1825.0 1224.4L1828.1 1222.9L1831.2 1221.2L1834.4 1221.5L1837.5 1217.2L1840.6 1217.4L1843.8 1215.2L1846.9 1213.0L1850.0 1211.0L1853.2 1209.6L1856.3 1204.6L1859.5 1202.6L1862.6 1198.6L1865.8 1195.6L1869.0 1192.5L1872.1 1190.6L1875.3 1187.1L1878.4 1184.1L1881.6 1182.7L1885.1 1182.0L1888.5 1177.5L1892.0 1177.2L1895.5 1174.3L1898.9 1172.2L1902.4 1169.2L1905.5 1167.6L1908.6 1166.5L1911.8 1164.2L1914.9 1161.6L1918.0 1158.8L1921.1 1155.9L1924.2 1153.2L1927.4 1150.2L1930.5 1146.5L1933.6 1143.2L1936.7 1140.7L1939.8 1137.1L1943.0 1136.8L1946.1 1133.1L1949.2 1130.7L1952.7 1125.9L1956.1 1122.7L1959.6 1120.3L1962.7 1119.4L1965.8 1115.4L1968.8 1113.8L1971.9 1112.6L1975.0 1110.0L1978.5 1109.7L1982.0 1106.5L1985.5 1105.1L1989.0 1104.0L1992.7 1104.4L1996.3 1103.8L2000.0 1106.0L2003.3 1108.5L2006.5 1107.1L2009.8 1110.0L2012.9 1110.0L2016.0 1105.9L2019.2 1104.4L2022.3 1104.0L2025.5 1105.6L2028.6 1106.0L2031.8 1104.6L2034.9 1106.0L2040.0 1106.0" stroke="#800000" stroke-width="6.0"/>
<path d="M376.4 1196.5L381.8 1189.6L385.2 1194.0L388.6 1198.4L392.1 1202.4L395.5 1204.6L398.6 1203.2L401.6 1198.3L404.7 1195.5L407.8 1189.6L411.0 1188.5L414.1 1192.1L417.3 1193.6L421.4 1199.4L425.5 1200.5L429.2 1195.8L432.8 1191.7L436.5 1184.2L439.6 1185.3L442.6 1190.3L445.7 1193.6L449.5 1188.5L453.3 1186.2L457.1 1182.2L460.9 1184.5L464.7 1186.0L467.8 1181.6L471.0 1180.7L474.1 1180.3L477.4 1175.8L480.8 1175.8L484.1 1171.7L487.4 1167.0L493.0 1176.5L496.2 1172.1L499.4 1172.8L502.7 1166.7L505.9 1166.6L509.1 1163.3L512.5 1167.1L515.8 1174.7L521.4 1168.0L524.6 1168.2L527.8 1175.6L531.0 1176.5L534.8 1182.6L538.5 1191.7L542.2 1184.5L546.0 1180.3L549.2 1180.3L552.3 1177.2L555.5 1172.8L560.0 1174.3L565.2 1186.0L568.8 1183.9L572.4 1186.4L575.9 1183.2L579.5 1182.0L582.8 1180.7L586.0 1176.0L589.2 1177.5L592.5 1173.0L596.0 1172.2L599.4 1171.9L602.9 1167.7L605.9 1164.5L609.0 1156.3L612.0 1152.1L615.5 1155.7L618.9 1159.0L622.4 1165.1L625.9 1161.6L629.3 1159.4L632.8 1160.0L636.7 1155.0L640.6 1152.1L644.5 1147.4L648.4 1139.1L652.3 1136.5L656.2 1142.6L660.1 1146.1L664.0 1152.1L667.2 1146.6L670.5 1143.0L674.4 1150.5L678.3 1154.7L681.8 1153.3L685.2 1151.1L688.7 1150.8L692.6 1148.1L696.5 1145.6L699.5 1141.5L702.6 1132.9L705.6 1130.0L710.8 1140.4L713.9 1139.0L716.9 1130.1L720.0 1128.7L723.0 1124.8L726.0 1120.1L729.0 1113.1L732.5 1106.7L736.0 1106.8L739.5 1101.4L744.7 1114.4L748.6 1104.0L752.5 1094.9L756.4 1102.5L760.3 1109.2L764.2 1101.4L768.1 1098.8L772.0 1099.0L775.9 1104.0L779.1 1100.1L782.4 1101.8L785.6 1095.6L788.9 1094.9L792.4 1094.9L795.8 1094.5L799.3 1091.0L802.5 1093.0L805.6 1089.7L808.8 1090.2L812.2 1088.0L815.6 1087.4L819.0 1087.3L822.4 1084.4L826.3 1077.8L830.2 1076.6L834.1 1070.7L837.5 1070.8L841.0 1069.7L844.4 1063.9L847.8 1064.9L851.6 1065.2L855.4 1058.8L859.2 1058.9L862.6 1055.3L866.0 1054.0L869.5 1052.9L872.9 1048.0L876.5 1044.0L880.2 1043.9L883.8 1038.5L887.9 1031.2L892.0 1023.4L895.4 1025.2L898.8 1028.9L900.2 1011.1L903.8 1008.3L907.5 1005.8L911.1 1005.7L914.5 1007.6L917.9 1013.9L923.4 996.1L927.0 992.9L930.7 994.4L934.3 992.0L937.7 987.8L941.1 978.4L944.5 970.5L948.0 966.1L952.1 953.8L953.4 938.8L958.9 926.5L964.4 907.4L969.8 891.0L972.6 874.6L976.0 852.0L979.0 834.0L982.2 805.7L985.5 782.0L990.7 730.0L995.9 678.0L1001.1 626.0L1006.3 574.0L1009.5 550.5L1012.8 522.0L1016.1 498.7L1019.5 475.0L1022.9 433.7L1027.8 410.2L1031.7 386.8L1035.6 369.3L1041.0 365.5L1044.2 365.4L1047.3 366.3L1052.2 381.0L1057.1 400.5L1062.9 414.1L1068.8 437.6L1074.6 462.9L1077.0 480.0L1080.4 516.8L1085.6 574.0L1088.8 605.1L1092.1 639.0L1095.3 672.0L1098.6 704.0L1102.5 738.2L1106.4 769.0L1109.7 794.8L1113.0 821.0L1116.0 840.1L1119.0 860.0L1122.1 869.4L1125.2 883.4L1128.4 922.4L1131.5 929.8L1134.6 930.4L1137.7 938.0L1142.4 956.7L1146.0 960.3L1149.7 965.8L1153.3 967.7L1157.2 965.0L1161.1 966.1L1164.2 975.1L1167.4 981.7L1170.5 988.7L1173.6 991.1L1176.8 1000.3L1179.9 1008.2L1183.0 1011.3L1186.1 1009.3L1189.2 1012.9L1192.3 1015.7L1195.5 1017.3L1198.6 1022.3L1201.7 1031.9L1204.8 1037.9L1207.9 1039.9L1211.1 1043.9L1214.2 1047.2L1219.0 1060.0L1222.2 1066.1L1225.4 1068.8L1228.6 1073.0L1231.8 1074.0L1235.3 1082.6L1238.8 1091.6L1242.3 1092.7L1245.9 1095.1L1249.4 1095.1L1252.9 1101.1L1256.4 1107.4L1259.9 1110.7L1263.4 1115.6L1266.9 1118.7L1270.4 1124.9L1273.9 1126.0L1277.5 1131.0L1281.0 1130.2L1286.2 1144.3L1289.3 1149.3L1292.3 1150.2L1295.4 1152.2L1298.5 1154.8L1301.6 1155.7L1304.7 1156.2L1307.7 1158.9L1310.8 1161.8L1316.1 1168.8L1319.6 1175.6L1323.1 1179.4L1326.2 1183.1L1329.2 1182.2L1332.3 1186.1L1335.4 1186.4L1338.9 1190.2L1342.4 1192.1L1345.9 1193.4L1349.0 1198.2L1352.1 1202.7L1355.1 1204.5L1358.2 1209.2L1361.3 1215.1L1364.3 1217.7L1367.4 1223.6L1370.5 1228.5L1374.0 1233.0L1377.5 1235.6L1381.0 1236.7L1384.5 1240.8L1388.0 1245.2L1391.5 1245.8L1395.1 1247.5L1398.6 1246.7L1402.1 1251.3L1405.2 1255.1L1408.2 1257.1L1411.3 1262.8L1414.4 1265.4L1417.5 1267.8L1420.5 1272.3L1423.5 1274.0L1426.6 1275.9L1429.7 1281.0L1432.8 1282.2L1435.9 1287.3L1439.1 1291.3L1442.2 1295.3L1445.3 1296.4L1448.4 1300.7L1451.5 1302.0L1454.5 1301.7L1457.6 1300.4L1460.6 1301.4L1463.7 1300.9L1466.8 1298.2L1469.8 1297.8L1472.9 1295.5L1476.0 1298.5L1479.0 1298.6L1482.1 1295.8L1485.1 1296.4L1488.2 1295.0L1491.3 1297.0L1494.4 1297.9L1497.6 1295.8L1500.7 1299.9L1503.8 1299.7L1506.9 1301.0L1510.0 1300.5L1513.2 1302.4L1516.3 1304.1L1519.4 1303.5L1522.6 1303.7L1525.7 1303.7L1528.9 1299.6L1532.0 1299.9L1535.2 1300.9L1538.3 1301.5L1541.5 1298.8L1544.6 1300.7L1547.8 1299.3L1551.0 1301.4L1554.1 1299.7L1557.3 1303.4L1560.4 1303.5L1563.6 1304.0L1566.7 1305.9L1569.9 1308.2L1573.0 1308.9L1576.2 1312.0L1579.3 1308.1L1582.4 1304.9L1585.5 1304.9L1588.6 1302.1L1591.7 1301.0L1594.8 1298.6L1597.9 1294.4L1601.0 1295.6L1604.1 1288.5L1607.2 1288.3L1610.3 1286.5L1613.5 1284.7L1616.8 1284.8L1620.0 1282.7L1623.3 1285.8L1626.5 1282.8L1629.8 1280.4L1633.0 1282.2L1636.2 1282.0L1639.3 1278.5L1642.5 1280.1L1645.6 1278.2L1648.8 1278.7L1651.9 1279.8L1655.1 1278.3L1658.2 1275.5L1661.4 1275.1L1664.5 1277.9L1667.6 1278.1L1670.8 1277.8L1673.9 1277.8L1677.0 1281.3L1680.1 1282.3L1683.2 1285.5L1686.4 1286.7L1689.5 1285.9L1692.6 1286.5L1696.1 1284.3L1699.7 1285.7L1703.2 1279.6L1706.8 1280.8L1710.6 1276.4L1714.4 1276.4L1718.2 1273.7L1721.4 1272.3L1724.6 1267.8L1727.9 1268.3L1731.1 1267.6L1734.3 1263.5L1737.6 1261.2L1740.8 1259.9L1744.1 1257.2L1747.4 1255.9L1750.7 1257.8L1753.9 1253.1L1757.2 1252.1L1760.4 1253.9L1763.6 1253.0L1766.8 1250.7L1770.0 1248.3L1773.1 1251.4L1776.3 1248.2L1779.5 1247.1L1782.7 1246.0L1785.9 1246.3L1789.1 1247.2L1792.3 1243.1L1795.4 1240.4L1798.6 1239.8L1801.8 1236.4L1805.0 1237.4L1808.1 1234.9L1811.3 1232.5L1814.5 1232.0L1817.6 1231.5L1820.7 1229.7L1823.8 1223.5L1826.9 1224.2L1830.0 1222.0L1833.4 1219.0L1836.8 1220.5L1840.2 1217.9L1843.6 1213.2L1847.0 1211.5L1850.4 1210.8L1853.9 1204.7L1857.3 1204.7L1860.8 1196.7L1864.3 1194.0L1867.7 1189.0L1871.2 1184.8L1874.3 1181.2L1877.4 1176.7L1880.6 1173.1L1883.7 1165.5L1886.8 1164.5L1889.9 1158.8L1893.4 1150.9L1897.0 1145.3L1900.5 1137.4L1904.1 1130.3L1907.6 1124.5L1911.4 1118.8L1915.2 1112.5L1919.0 1106.8L1922.1 1099.1L1925.2 1094.0L1928.4 1086.2L1931.5 1078.7L1935.0 1064.7L1938.5 1054.3L1942.0 1044.0L1945.5 1032.6L1948.9 1023.8L1952.4 1010.5L1955.9 1003.4L1959.3 992.5L1962.8 983.2L1966.7 967.0L1970.6 955.9L1974.1 952.6L1977.5 946.0L1981.0 941.6L1984.5 939.4L1987.9 937.5L1991.4 933.8L1994.7 931.9L1997.9 928.6L2001.4 928.1L2004.8 929.9L2008.3 927.3L2011.5 930.0L2014.8 933.8L2018.3 935.8L2021.7 940.8L2025.2 941.6L2029.1 943.9L2033.0 949.4L2036.5 950.1L2040.0 953.0" stroke="#000000" stroke-width="6.0"/>
<path d="M375.7 1223.9L378.8 1226.1L381.9 1226.8L385.0 1225.8L388.4 1224.3L391.7 1221.7L395.0 1218.9L398.4 1220.0L401.6 1222.8L404.7 1223.7L407.9 1225.8L411.0 1225.2L414.2 1221.3L417.3 1220.0L420.5 1222.7L423.6 1221.4L426.8 1223.9L430.0 1223.6L433.1 1221.3L436.3 1218.2L439.4 1219.0L442.6 1220.9L445.7 1222.0L448.9 1219.8L452.0 1214.1L455.2 1212.5L459.0 1209.0L462.8 1205.0L465.9 1204.1L469.1 1198.7L472.2 1197.4L476.0 1200.2L479.8 1200.8L483.6 1201.0L487.0 1201.7L490.4 1197.9L493.8 1195.6L497.2 1198.2L500.6 1195.5L503.7 1198.9L506.9 1198.9L510.0 1201.0L513.2 1197.7L516.3 1197.0L519.5 1197.4L523.2 1201.9L527.0 1205.0L530.2 1203.2L533.4 1206.0L536.6 1203.0L540.4 1211.1L544.2 1218.2L548.0 1211.9L551.7 1208.7L555.5 1213.3L559.3 1216.3L562.5 1213.7L565.6 1214.8L568.8 1210.6L571.9 1213.4L575.1 1211.9L578.2 1212.5L582.1 1205.0L586.0 1196.0L589.2 1194.9L592.5 1193.2L595.8 1192.0L599.0 1187.3L602.3 1183.1L605.6 1183.1L609.0 1182.6L612.3 1180.3L616.1 1178.6L619.9 1179.5L623.7 1178.4L627.5 1175.6L631.2 1179.1L635.0 1176.5L638.2 1179.8L641.3 1180.8L644.5 1186.0L648.4 1183.4L652.3 1178.1L656.2 1175.6L659.8 1176.0L663.4 1179.4L666.9 1179.6L670.5 1183.4L673.9 1182.7L677.3 1186.9L680.6 1186.8L684.0 1184.0L687.4 1187.3L690.4 1185.3L693.5 1177.9L696.5 1176.9L699.8 1174.1L703.0 1173.0L706.5 1170.3L709.9 1164.0L713.4 1158.6L716.4 1159.8L719.5 1162.3L722.5 1165.1L725.8 1161.6L729.0 1157.3L732.3 1158.9L735.6 1153.4L738.9 1148.8L742.1 1148.5L745.4 1147.9L748.6 1144.4L751.9 1142.5L755.1 1141.7L758.6 1144.6L762.0 1141.2L765.5 1143.0L768.5 1139.4L771.6 1132.9L774.6 1124.8L778.1 1127.4L781.5 1130.3L785.0 1130.0L789.1 1127.4L793.2 1125.4L796.3 1125.6L799.4 1123.8L802.6 1120.8L805.7 1119.0L808.8 1117.6L812.7 1113.8L816.6 1107.8L819.8 1104.7L823.1 1100.4L826.3 1100.0L830.2 1102.6L834.1 1101.4L838.0 1103.9L841.4 1101.9L844.9 1101.5L848.3 1096.3L851.7 1096.1L855.0 1090.3L858.2 1087.6L861.5 1086.3L865.4 1082.9L869.3 1077.8L873.2 1074.6L877.1 1075.3L881.0 1078.5L884.9 1070.4L888.8 1062.9L892.7 1063.2L896.6 1057.7L900.5 1057.0L904.0 1052.6L907.6 1051.2L911.1 1045.3L914.7 1047.2L918.4 1046.8L922.0 1049.3L926.1 1039.7L930.2 1030.3L933.6 1028.8L937.0 1027.5L940.5 1017.4L943.9 1011.1L949.3 997.5L953.4 991.4L957.5 986.6L963.0 968.8L968.5 948.3L972.6 929.2L976.6 907.4L980.7 884.1L983.5 863.7L989.4 821.0L992.6 794.0L995.9 769.0L1001.1 717.0L1006.3 665.0L1009.5 640.6L1012.8 613.0L1016.7 586.1L1020.6 561.0L1024.5 535.8L1028.4 509.0L1031.7 492.9L1035.0 472.0L1037.6 462.9L1043.0 458.0L1046.2 459.8L1049.3 457.1L1054.5 465.0L1057.1 472.7L1060.9 490.2L1064.8 509.0L1068.7 535.5L1072.6 561.0L1076.5 586.1L1080.4 613.0L1083.7 645.0L1086.9 678.0L1090.2 710.4L1093.4 743.0L1096.7 777.0L1100.0 808.0L1103.0 828.9L1106.0 844.2L1109.0 864.0L1112.5 875.0L1115.9 891.2L1120.6 930.2L1123.7 945.5L1126.8 961.4L1129.9 992.6L1133.0 992.9L1136.2 995.4L1139.3 1000.4L1143.2 1011.2L1147.1 1019.2L1150.7 1021.3L1154.4 1028.6L1158.0 1031.6L1161.1 1029.8L1164.3 1031.8L1167.4 1028.5L1170.5 1035.0L1173.6 1035.6L1176.7 1042.6L1179.8 1046.2L1183.0 1055.3L1186.1 1058.2L1189.6 1062.9L1193.2 1066.0L1196.7 1070.5L1201.1 1076.4L1205.5 1079.3L1209.9 1088.8L1214.3 1095.1L1219.5 1105.6L1223.9 1111.7L1228.3 1117.9L1231.8 1115.1L1235.3 1112.7L1239.7 1108.8L1244.1 1109.1L1247.6 1117.2L1251.1 1126.7L1254.6 1131.3L1258.1 1140.2L1261.6 1146.0L1265.2 1140.4L1268.7 1133.7L1273.1 1142.4L1277.4 1154.8L1281.8 1160.7L1286.2 1165.3L1289.7 1168.5L1293.2 1175.9L1296.3 1173.4L1299.3 1175.8L1302.4 1174.4L1305.5 1174.1L1309.9 1182.3L1314.3 1186.4L1317.4 1188.8L1320.4 1190.9L1323.5 1189.7L1326.6 1193.4L1330.1 1197.8L1333.6 1196.5L1337.1 1201.9L1340.6 1203.9L1344.1 1207.8L1347.7 1209.6L1351.2 1211.3L1354.7 1211.0L1359.1 1216.0L1363.5 1221.5L1367.8 1229.5L1372.2 1235.5L1375.3 1240.5L1378.3 1240.7L1381.4 1248.4L1384.5 1249.6L1387.6 1254.8L1390.7 1255.4L1393.7 1260.3L1396.8 1261.9L1400.3 1264.7L1403.8 1266.9L1407.4 1272.2L1410.9 1274.2L1414.0 1274.0L1417.2 1280.0L1420.3 1283.0L1423.5 1281.5L1426.6 1284.7L1430.1 1288.1L1433.5 1284.7L1437.0 1288.0L1440.8 1295.0L1444.6 1297.2L1448.4 1303.5L1451.4 1304.7L1454.5 1300.7L1457.5 1302.1L1460.6 1296.2L1463.6 1295.3L1466.7 1297.9L1469.7 1295.0L1473.2 1297.1L1476.8 1298.0L1480.4 1296.8L1483.9 1300.7L1487.1 1299.3L1490.2 1300.6L1493.4 1299.3L1496.5 1304.5L1499.7 1303.6L1502.8 1304.9L1506.0 1303.9L1509.1 1302.4L1512.3 1303.5L1515.8 1301.0L1519.4 1304.0L1523.0 1300.4L1526.5 1302.1L1530.0 1301.3L1533.6 1299.8L1537.2 1298.8L1540.7 1297.8L1544.2 1295.6L1547.8 1295.6L1551.4 1297.9L1554.9 1297.8L1558.5 1304.6L1562.0 1316.3L1565.0 1313.0L1568.1 1307.6L1571.1 1304.8L1574.2 1300.7L1577.2 1299.4L1580.3 1295.1L1583.3 1292.2L1586.8 1288.3L1590.4 1285.8L1594.0 1285.0L1597.5 1282.2L1600.6 1282.4L1603.7 1277.8L1606.9 1274.5L1610.0 1273.3L1613.1 1272.3L1617.3 1274.5L1621.6 1279.4L1625.4 1279.3L1629.2 1280.0L1633.0 1278.0L1636.4 1276.7L1639.8 1273.0L1643.2 1272.0L1646.6 1270.6L1650.0 1269.5L1653.5 1268.8L1657.1 1268.2L1660.7 1271.0L1664.2 1268.0L1668.5 1270.4L1672.7 1272.3L1676.1 1269.4L1679.5 1266.0L1683.0 1262.0L1686.4 1259.1L1689.8 1253.8L1694.0 1257.4L1698.3 1262.4L1701.5 1261.5L1704.7 1261.3L1707.9 1255.3L1711.1 1255.3L1714.3 1253.9L1717.5 1250.6L1720.6 1246.9L1723.8 1244.7L1727.0 1246.4L1730.2 1241.1L1733.4 1242.1L1736.5 1236.9L1739.7 1236.3L1742.9 1234.9L1746.1 1232.1L1749.3 1234.5L1752.5 1235.4L1755.7 1232.2L1758.8 1233.6L1762.0 1235.2L1765.2 1231.6L1768.4 1232.2L1771.6 1232.0L1774.8 1232.2L1778.0 1232.0L1781.1 1227.4L1784.3 1229.0L1787.5 1225.2L1790.7 1224.3L1793.8 1227.8L1797.0 1222.0L1800.2 1223.4L1803.4 1223.0L1806.6 1219.6L1809.7 1216.7L1812.9 1214.4L1816.1 1211.5L1819.3 1207.0L1822.4 1205.3L1825.6 1201.5L1828.8 1200.5L1832.5 1202.2L1836.3 1201.6L1840.0 1200.0L1843.5 1198.1L1846.9 1191.7L1850.4 1190.3L1853.9 1185.1L1857.3 1184.5L1860.8 1179.6L1863.9 1178.2L1867.0 1176.8L1870.2 1172.6L1873.3 1169.8L1876.4 1166.1L1879.5 1163.0L1882.6 1154.8L1885.8 1152.9L1888.9 1145.4L1892.0 1143.2L1895.5 1134.2L1898.9 1124.5L1902.4 1118.2L1905.5 1114.6L1908.7 1103.8L1911.8 1102.5L1914.9 1094.3L1918.7 1089.7L1922.5 1080.1L1926.3 1073.5L1929.6 1066.5L1932.9 1056.0L1936.2 1046.5L1939.4 1039.8L1942.7 1032.0L1945.9 1027.4L1949.8 1017.4L1953.7 1009.2L1957.6 1004.0L1961.1 997.9L1964.5 986.3L1968.0 980.6L1971.5 975.9L1974.9 969.0L1978.4 965.0L1981.9 958.8L1985.3 955.9L1988.8 952.0L1992.7 948.6L1996.6 951.0L2000.5 946.8L2003.8 949.4L2007.0 953.3L2010.9 955.7L2014.8 957.2L2018.7 958.8L2022.6 960.4L2026.5 961.0L2030.4 962.2L2034.3 963.7L2040.0 965.0" stroke="#FF0000" stroke-width="6.0"/>
<path d="M376.0 1148.0L377.0 1167.0L381.0 1164.1L385.0 1163.0L388.2 1161.2L391.4 1163.8L394.6 1163.0L397.7 1162.4L400.9 1166.5L404.0 1168.0L407.8 1167.6L411.6 1166.4L415.4 1169.0L418.6 1165.9L421.8 1160.3L425.0 1159.5L428.8 1160.9L432.5 1163.0L435.7 1157.8L438.8 1154.9L442.0 1154.0L445.8 1149.6L449.5 1146.0L455.0 1152.0L458.2 1148.7L461.4 1140.0L464.6 1137.0L468.3 1130.6L472.0 1127.0L475.9 1129.0L479.7 1132.0L483.6 1131.0L487.3 1129.4L491.0 1127.0L495.4 1122.5L499.7 1119.0L503.1 1124.1L506.6 1122.0L510.0 1127.0L513.8 1134.0L517.6 1136.2L521.4 1142.5L524.7 1141.0L528.0 1141.3L531.4 1142.6L534.7 1144.0L538.5 1146.3L542.2 1143.7L546.0 1146.0L549.8 1148.4L553.6 1150.0L556.8 1147.9L560.0 1144.3L565.2 1141.7L568.7 1147.1L572.1 1154.1L575.6 1159.9L579.1 1152.4L582.5 1147.2L586.0 1144.3L589.2 1138.5L592.5 1136.8L595.8 1131.2L599.0 1127.4L602.5 1122.5L605.9 1120.0L609.4 1115.7L613.3 1112.9L617.2 1109.5L621.1 1107.9L624.4 1119.2L627.6 1127.4L631.5 1123.2L635.4 1117.0L638.4 1113.1L641.5 1112.2L644.5 1109.2L648.0 1115.4L651.4 1123.3L654.9 1127.4L657.9 1122.5L661.0 1114.2L664.0 1109.2L667.2 1115.3L670.5 1114.4L673.8 1119.5L677.0 1123.5L680.9 1124.2L684.8 1122.2L688.7 1110.6L692.6 1102.7L696.5 1103.9L700.4 1105.3L703.4 1100.3L706.5 1101.0L709.5 1097.5L712.8 1094.3L716.0 1088.4L719.9 1082.3L723.8 1077.4L727.7 1068.9L733.0 1084.5L736.2 1084.5L739.5 1087.5L742.8 1087.9L746.0 1088.4L748.6 1063.7L751.9 1061.2L755.1 1057.6L758.4 1056.7L761.6 1052.0L764.6 1055.2L767.7 1053.6L770.7 1054.6L774.3 1055.5L777.9 1052.3L781.4 1055.6L785.0 1054.6L790.2 1039.0L793.2 1034.1L796.3 1030.3L799.3 1022.1L802.7 1025.5L806.0 1024.4L809.4 1026.6L812.8 1028.9L815.8 1026.0L818.9 1018.9L822.0 1017.5L825.0 1013.9L828.1 1008.7L831.2 1005.1L834.3 1001.3L837.4 1000.2L841.5 1003.0L845.5 1003.0L848.9 998.7L852.4 996.9L855.8 995.2L859.2 993.4L862.4 991.2L865.6 983.0L868.8 981.1L872.4 977.2L876.1 974.1L879.7 970.2L883.1 974.9L886.5 975.6L889.9 967.7L893.3 956.5L898.8 962.0L902.2 955.7L905.6 945.6L908.7 941.7L911.8 939.7L914.8 936.7L917.9 934.7L921.3 931.2L924.8 923.7L928.2 917.9L931.6 907.4L935.7 899.4L939.8 895.0L943.9 884.1L949.3 863.7L953.1 847.2L956.9 834.0L960.1 813.1L963.4 795.0L966.6 774.1L969.9 756.0L973.1 729.9L976.4 704.0L979.6 678.5L982.9 652.0L986.1 618.3L989.4 587.0L994.6 522.0L998.5 475.0L1000.5 433.7L1005.4 384.9L1009.3 342.0L1013.2 306.8L1016.6 291.6L1020.0 281.5L1023.9 254.1L1027.8 236.6L1033.7 228.8L1036.6 213.2L1040.0 206.0L1044.4 197.0L1047.5 206.0L1051.0 219.0L1056.5 232.7L1059.0 254.1L1064.9 279.5L1067.8 308.8L1070.7 345.9L1076.6 381.0L1080.5 414.1L1085.4 449.3L1087.5 475.0L1089.5 522.0L1092.8 554.1L1096.0 587.0L1099.2 612.3L1102.5 639.0L1105.8 665.3L1109.0 691.0L1114.3 743.0L1119.5 795.0L1123.4 816.9L1127.3 834.0L1130.9 848.0L1134.6 860.0L1137.8 867.9L1140.9 875.6L1144.0 881.4L1147.1 886.9L1150.2 891.2L1153.3 899.0L1156.5 911.5L1160.4 915.1L1164.3 914.6L1167.9 919.7L1171.6 923.8L1175.2 925.5L1179.9 941.1L1183.0 942.6L1186.1 941.1L1190.8 961.4L1194.7 968.6L1198.6 977.0L1201.7 979.6L1204.8 981.2L1208.0 987.1L1211.1 989.5L1214.2 991.9L1217.3 996.6L1220.4 1003.5L1223.5 1025.4L1227.0 1025.0L1230.5 1025.9L1234.1 1028.0L1237.6 1030.0L1240.7 1051.9L1244.3 1053.2L1248.0 1056.6L1251.6 1062.8L1256.4 1070.5L1259.5 1070.5L1262.6 1072.0L1265.6 1075.1L1268.7 1077.6L1273.9 1095.1L1277.4 1097.3L1281.0 1106.4L1284.5 1109.1L1289.7 1123.2L1292.8 1126.4L1295.8 1126.6L1298.9 1129.8L1302.0 1133.7L1306.4 1139.1L1310.8 1146.0L1314.3 1140.9L1317.8 1137.2L1323.1 1154.8L1326.6 1155.0L1330.1 1161.0L1333.6 1164.0L1337.1 1163.6L1340.2 1166.9L1343.2 1170.5L1346.3 1171.9L1349.4 1177.6L1353.8 1182.5L1358.2 1191.6L1361.7 1199.6L1365.2 1209.2L1368.7 1213.8L1372.2 1222.6L1375.7 1226.8L1378.8 1227.2L1381.8 1228.7L1384.9 1235.7L1388.0 1235.5L1392.4 1241.8L1396.8 1247.8L1401.2 1249.5L1405.6 1254.8L1409.1 1254.2L1412.6 1253.1L1417.9 1272.4L1421.4 1272.9L1424.9 1278.4L1428.4 1281.2L1431.4 1290.7L1434.7 1294.1L1438.0 1294.5L1441.3 1294.6L1444.6 1293.3L1447.9 1294.8L1451.2 1296.4L1454.8 1296.4L1458.3 1301.4L1461.9 1301.9L1465.4 1303.5L1468.7 1307.1L1472.0 1306.9L1475.3 1308.5L1478.7 1313.7L1482.0 1316.7L1485.3 1316.3L1488.6 1313.4L1492.0 1308.4L1495.3 1302.1L1498.5 1305.9L1501.7 1307.6L1504.8 1307.1L1508.0 1310.6L1511.1 1307.6L1514.2 1303.6L1517.4 1298.8L1520.5 1295.7L1523.6 1295.0L1527.9 1316.3L1531.2 1315.2L1534.5 1315.0L1537.8 1316.3L1541.2 1315.6L1544.6 1315.3L1548.1 1310.9L1551.5 1311.8L1554.9 1307.8L1558.0 1308.1L1561.1 1305.6L1564.3 1300.3L1567.4 1297.2L1570.5 1296.4L1573.8 1295.0L1577.1 1294.8L1580.5 1294.9L1583.8 1297.0L1587.1 1298.5L1590.4 1296.4L1593.4 1297.0L1596.5 1293.9L1599.5 1293.6L1602.6 1293.1L1605.6 1288.2L1608.7 1289.9L1611.7 1287.9L1615.2 1293.2L1618.8 1295.8L1622.4 1298.8L1625.9 1300.7L1629.0 1294.6L1632.1 1287.1L1635.3 1284.3L1638.4 1276.0L1641.5 1270.9L1644.7 1274.6L1647.9 1277.6L1651.1 1276.7L1654.3 1279.4L1657.5 1277.6L1660.6 1279.2L1663.8 1276.8L1666.9 1272.6L1670.1 1271.1L1673.2 1270.0L1676.4 1272.6L1679.5 1270.9L1682.7 1268.0L1685.7 1266.2L1688.8 1269.7L1691.8 1270.5L1694.9 1268.8L1697.9 1267.2L1701.0 1268.3L1704.0 1268.0L1707.5 1265.0L1711.1 1263.4L1714.7 1267.3L1718.2 1263.8L1721.7 1261.6L1725.1 1258.0L1728.6 1254.9L1731.8 1254.0L1734.9 1248.3L1738.0 1247.4L1741.2 1244.0L1744.3 1237.6L1747.5 1234.7L1750.6 1231.8L1753.8 1228.4L1756.9 1227.0L1760.1 1223.4L1763.7 1221.4L1767.2 1221.6L1770.8 1219.4L1774.4 1220.6L1777.7 1221.5L1780.9 1217.4L1784.2 1216.7L1787.5 1216.1L1790.8 1216.6L1794.0 1212.8L1797.3 1212.0L1800.5 1211.7L1803.7 1207.0L1806.9 1204.7L1810.2 1202.1L1813.4 1197.0L1816.6 1196.7L1819.8 1192.9L1823.0 1192.0L1826.4 1188.2L1829.8 1191.2L1833.2 1186.7L1836.6 1187.1L1840.0 1186.0L1843.4 1180.7L1846.8 1173.3L1850.1 1165.6L1853.5 1160.0L1857.0 1156.7L1860.5 1153.5L1864.0 1151.3L1867.5 1144.4L1871.0 1143.0L1874.2 1137.9L1877.4 1130.9L1880.6 1125.6L1883.8 1122.8L1887.0 1116.0L1890.0 1111.0L1893.0 1106.3L1896.0 1102.4L1899.0 1096.0L1902.5 1090.1L1906.0 1080.0L1909.3 1069.7L1912.7 1060.6L1916.0 1050.0L1919.2 1040.8L1922.5 1031.6L1925.8 1023.3L1929.0 1013.0L1932.2 1004.8L1935.5 997.2L1938.8 988.9L1942.0 981.0L1945.0 974.6L1948.0 964.7L1951.0 955.0L1954.0 949.7L1957.0 942.8L1960.0 932.0L1963.0 926.0L1966.8 921.1L1970.7 917.9L1974.5 910.4L1977.5 909.6L1980.6 903.3L1983.6 902.6L1987.0 900.7L1990.4 902.5L1993.7 900.6L1997.1 901.6L2000.5 903.0L2004.0 901.1L2007.4 904.5L2010.9 903.9L2014.2 909.9L2017.4 913.0L2020.4 916.1L2023.5 913.2L2026.5 916.0L2030.2 921.6L2034.0 925.0L2037.0 928.3L2040.0 930.0" stroke="#0000FF" stroke-width="6.0"/>
<path d="M373.8 1239.0L377.6 1236.3L381.3 1238.9L385.1 1235.2L388.4 1235.6L391.8 1241.0L395.1 1240.2L398.4 1244.7L401.7 1243.4L405.0 1247.3L408.3 1243.2L411.6 1244.7L417.3 1235.2L420.5 1235.3L423.6 1233.7L426.8 1233.3L430.6 1232.4L434.3 1232.0L438.1 1231.4L441.9 1229.2L445.7 1231.9L449.5 1229.5L453.3 1225.5L457.1 1224.4L460.9 1223.9L464.7 1222.0L468.4 1224.0L472.2 1225.8L476.0 1223.4L479.8 1224.0L483.6 1220.0L486.7 1219.4L489.9 1218.0L493.0 1220.0L496.8 1215.6L500.6 1216.3L504.4 1210.6L507.6 1210.2L510.7 1215.0L513.9 1216.3L517.7 1218.2L521.4 1222.2L525.2 1223.9L529.0 1219.3L532.8 1216.3L536.6 1222.0L540.4 1225.8L544.2 1227.7L547.9 1230.3L551.7 1231.4L555.5 1232.3L559.3 1229.4L563.1 1227.7L566.9 1225.2L570.6 1224.2L574.4 1225.8L577.6 1226.2L580.8 1221.9L584.0 1220.0L587.1 1219.7L590.3 1224.9L593.4 1223.9L597.2 1218.6L601.0 1212.5L604.0 1212.9L607.0 1213.0L610.0 1209.1L613.0 1208.7L616.0 1208.7L619.2 1209.7L622.3 1204.9L625.5 1207.2L628.7 1202.8L631.8 1204.9L635.0 1203.0L638.0 1206.3L641.1 1209.9L644.1 1211.6L647.2 1212.1L650.2 1214.4L653.3 1209.0L656.5 1205.0L659.6 1203.0L662.9 1204.6L666.2 1205.9L669.6 1205.0L672.9 1208.7L676.7 1209.6L680.4 1206.3L684.2 1205.0L687.5 1207.4L690.9 1206.3L694.2 1207.9L697.5 1210.6L701.3 1204.9L705.0 1203.4L708.8 1201.0L712.0 1196.7L715.1 1194.4L718.3 1191.7L722.1 1189.2L725.9 1189.6L729.7 1186.0L733.5 1186.8L737.2 1181.8L741.0 1182.2L744.8 1179.2L748.6 1175.5L752.4 1174.7L756.2 1174.3L760.0 1172.2L763.3 1174.0L766.5 1169.3L769.8 1170.2L773.0 1174.2L776.3 1174.4L779.5 1178.0L782.8 1172.9L786.0 1174.2L789.3 1170.2L792.4 1167.4L795.5 1164.6L798.7 1164.0L801.8 1161.0L804.9 1160.5L808.3 1160.0L811.7 1160.2L815.1 1160.1L818.5 1160.5L821.8 1157.7L825.0 1152.9L828.3 1150.7L831.4 1147.4L834.5 1146.2L837.7 1145.2L840.8 1146.2L843.9 1144.9L847.2 1144.8L850.4 1147.8L853.7 1146.8L859.5 1137.1L862.9 1137.1L866.4 1138.2L869.8 1139.6L873.2 1137.1L876.6 1130.9L880.0 1126.8L883.4 1123.5L886.8 1121.5L890.2 1119.9L893.6 1119.9L897.1 1119.8L900.5 1117.6L903.6 1114.9L906.7 1116.1L909.9 1109.1L913.0 1111.5L916.1 1107.8L919.5 1104.3L923.0 1105.9L926.4 1099.5L929.8 1100.0L933.0 1100.5L936.3 1097.4L939.5 1094.1L943.4 1088.9L947.3 1078.5L951.2 1074.1L955.1 1068.8L959.0 1058.3L962.9 1051.2L967.0 1041.8L971.2 1027.5L974.6 1013.5L978.0 1000.2L983.5 975.6L987.6 952.4L991.7 926.5L995.1 897.8L999.2 870.5L1003.3 837.1L1007.4 808.0L1011.3 782.5L1015.3 756.0L1019.2 736.7L1023.1 717.5L1025.7 701.3L1029.6 685.0L1033.2 672.0L1038.0 659.0L1041.0 651.0L1044.9 647.5L1050.0 649.5L1053.3 654.1L1056.6 659.0L1060.1 672.0L1063.4 685.0L1067.9 701.3L1070.5 717.5L1075.7 746.8L1079.2 768.4L1082.7 793.6L1086.6 815.0L1090.4 840.4L1095.6 880.0L1098.5 903.0L1100.3 922.4L1103.4 938.4L1106.5 953.6L1109.7 969.0L1112.8 984.8L1117.4 1016.0L1121.3 1029.7L1125.2 1047.2L1128.3 1057.3L1131.5 1068.0L1135.2 1080.1L1138.8 1089.8L1143.2 1090.9L1147.6 1089.8L1151.9 1096.7L1156.3 1103.9L1159.8 1102.5L1163.3 1101.4L1166.9 1099.8L1170.4 1100.4L1173.9 1105.8L1177.4 1114.4L1180.9 1115.9L1184.4 1115.9L1187.9 1119.7L1193.2 1130.2L1196.7 1129.6L1200.2 1126.7L1204.6 1137.4L1209.0 1146.0L1213.4 1147.5L1217.8 1147.8L1222.2 1152.3L1226.5 1161.8L1230.9 1164.6L1235.3 1168.8L1238.8 1171.1L1242.3 1172.0L1245.9 1179.2L1249.4 1179.4L1252.9 1184.2L1256.4 1186.4L1259.9 1189.9L1263.4 1193.3L1266.9 1193.0L1270.4 1196.9L1273.5 1197.2L1276.6 1200.5L1279.6 1203.4L1282.7 1203.9L1285.8 1206.4L1288.8 1204.9L1291.9 1209.8L1295.0 1211.0L1298.5 1218.4L1302.0 1221.5L1305.5 1218.7L1309.1 1215.5L1312.6 1209.2L1317.8 1223.2L1320.9 1224.8L1323.9 1220.0L1327.0 1219.5L1330.1 1219.7L1333.6 1226.1L1337.1 1232.0L1340.2 1233.6L1343.2 1229.6L1346.3 1231.7L1349.4 1228.5L1353.8 1237.4L1358.2 1242.6L1361.7 1245.7L1365.2 1249.4L1368.7 1254.1L1372.2 1254.8L1375.3 1258.0L1378.3 1257.3L1381.4 1261.9L1384.5 1261.9L1388.9 1264.7L1393.3 1270.6L1396.8 1274.0L1400.3 1281.2L1403.8 1282.9L1407.3 1287.1L1410.9 1286.7L1414.4 1290.0L1417.9 1291.1L1421.4 1294.9L1424.9 1298.3L1428.4 1298.7L1431.6 1300.5L1434.8 1302.7L1438.1 1302.4L1441.3 1302.1L1444.3 1304.6L1447.4 1304.3L1450.4 1303.8L1453.5 1305.0L1456.5 1306.1L1459.6 1307.1L1462.6 1307.8L1465.6 1309.1L1468.7 1305.8L1471.7 1304.3L1474.8 1307.4L1477.8 1304.5L1480.9 1304.9L1483.9 1304.9L1486.9 1304.5L1490.0 1309.9L1493.0 1308.6L1496.1 1310.3L1499.1 1314.6L1502.2 1314.7L1505.2 1316.3L1508.2 1313.9L1511.3 1315.9L1514.3 1312.2L1517.4 1310.7L1520.4 1312.6L1523.5 1310.5L1526.5 1307.8L1529.7 1309.4L1532.8 1307.1L1536.0 1310.4L1539.1 1309.5L1542.3 1311.1L1545.4 1309.0L1548.6 1311.4L1551.7 1311.8L1554.9 1310.6L1557.9 1309.2L1561.0 1309.8L1564.0 1309.6L1567.1 1309.9L1570.1 1308.7L1573.2 1307.2L1576.2 1304.9L1579.4 1302.2L1582.5 1303.9L1585.7 1303.5L1588.8 1299.6L1592.0 1300.8L1595.1 1302.1L1598.3 1301.5L1601.4 1300.8L1604.6 1297.8L1607.8 1294.9L1610.9 1296.8L1614.1 1297.3L1617.2 1295.4L1620.4 1292.9L1623.5 1290.7L1626.7 1294.5L1629.8 1293.4L1633.0 1290.7L1636.2 1290.9L1639.3 1288.8L1642.5 1290.5L1645.6 1289.8L1648.8 1288.8L1651.9 1287.5L1655.1 1285.4L1658.2 1284.7L1661.4 1285.1L1664.4 1284.9L1667.4 1285.2L1670.4 1286.8L1673.5 1285.2L1676.5 1288.9L1679.5 1287.5L1682.5 1287.0L1685.5 1289.3L1688.6 1286.4L1691.7 1285.4L1694.8 1284.0L1697.8 1284.2L1700.9 1279.0L1704.0 1279.4L1707.5 1277.2L1711.1 1276.9L1714.7 1275.5L1718.2 1276.5L1721.7 1276.3L1725.1 1271.5L1728.6 1272.1L1731.8 1268.2L1735.0 1269.2L1738.1 1268.6L1741.3 1267.4L1744.5 1264.5L1747.7 1261.7L1750.8 1263.0L1754.0 1260.6L1757.2 1257.8L1760.4 1256.7L1763.6 1256.2L1766.8 1257.2L1770.0 1256.6L1773.1 1255.3L1776.3 1250.2L1779.5 1250.2L1782.7 1249.7L1785.9 1249.2L1789.1 1246.2L1792.3 1248.0L1795.4 1243.1L1798.6 1246.1L1801.8 1243.3L1805.0 1242.2L1808.1 1239.9L1811.3 1241.3L1814.5 1237.8L1817.7 1236.6L1820.9 1236.7L1824.0 1235.2L1827.2 1232.4L1830.4 1232.3L1833.6 1228.1L1836.7 1225.9L1839.9 1226.8L1843.1 1223.4L1846.2 1220.4L1849.3 1216.1L1852.5 1214.9L1855.6 1210.8L1858.8 1208.1L1862.1 1203.7L1865.3 1204.8L1868.6 1200.4L1871.8 1200.3L1875.1 1195.4L1878.3 1194.9L1881.6 1190.0L1885.1 1186.3L1888.5 1183.3L1892.0 1182.3L1895.5 1181.0L1898.9 1178.7L1902.4 1174.4L1905.9 1168.2L1909.3 1158.6L1912.8 1153.6L1916.3 1146.1L1919.7 1137.3L1923.2 1132.8L1926.7 1126.9L1930.1 1124.7L1933.6 1117.2L1937.1 1111.2L1940.5 1107.8L1944.0 1101.6L1947.5 1095.3L1950.9 1085.9L1954.4 1080.8L1960.2 1072.9L1963.7 1068.2L1967.1 1059.4L1970.6 1056.0L1974.1 1049.2L1977.5 1046.0L1981.0 1040.4L1984.2 1036.8L1987.5 1039.6L1990.8 1035.1L1994.0 1033.9L1997.2 1034.9L2000.5 1037.0L2003.8 1032.8L2007.0 1035.2L2010.9 1036.5L2014.8 1032.6L2017.8 1033.7L2020.9 1040.1L2023.9 1043.0L2026.9 1042.5L2030.0 1042.9L2033.0 1039.0L2036.5 1038.8L2040.0 1040.0" stroke="#008080" stroke-width="6.0"/>
</g>
<g stroke="#000" stroke-width="4.6" fill="none" stroke-linecap="butt">
<path d="M344.5 50.8H2038.3"/>
<path d="M372.9 48.5V1386.5" stroke-width="5.2"/>
<path d="M2036.0 48.5V1386.5" stroke-width="5.0"/>
<path d="M372.5 1359.0H2036.0"/>
<path d="M344.5 1317.0H372.5"/>
<path d="M344.5 1106.0H372.5"/>
<path d="M344.5 895.0H372.5"/>
<path d="M344.5 684.0H372.5"/>
<path d="M344.5 473.0H372.5"/>
<path d="M344.5 262.0H372.5"/>
<path d="M357.5 1211.5H372.5"/>
<path d="M357.5 1000.5H372.5"/>
<path d="M357.5 789.5H372.5"/>
<path d="M357.5 578.5H372.5"/>
<path d="M357.5 367.5H372.5"/>
<path d="M357.5 156.5H372.5"/>
<path d="M788.4 1359.0V1386.5"/>
<path d="M1204.2 1359.0V1386.5"/>
<path d="M1620.1 1359.0V1386.5"/>
<path d="M580.4 1359.0V1375.0"/>
<path d="M996.3 1359.0V1375.0"/>
<path d="M1412.2 1359.0V1375.0"/>
<path d="M1828.1 1359.0V1375.0"/>
</g>
<text x="337.2" y="1335.5" font-family="'Liberation Sans', sans-serif" font-weight="bold" font-size="47.5" letter-spacing="1.8" text-anchor="end">0</text>
<text x="337.2" y="1124.5" font-family="'Liberation Sans', sans-serif" font-weight="bold" font-size="47.5" letter-spacing="1.8" text-anchor="end">500,000</text>
<text x="337.2" y="913.5" font-family="'Liberation Sans', sans-serif" font-weight="bold" font-size="47.5" letter-spacing="1.8" text-anchor="end">1,000,000</text>
<text x="337.2" y="702.5" font-family="'Liberation Sans', sans-serif" font-weight="bold" font-size="47.5" letter-spacing="1.8" text-anchor="end">1,500,000</text>
<text x="337.2" y="491.5" font-family="'Liberation Sans', sans-serif" font-weight="bold" font-size="47.5" letter-spacing="1.8" text-anchor="end">2,000,000</text>
<text x="337.2" y="280.5" font-family="'Liberation Sans', sans-serif" font-weight="bold" font-size="47.5" letter-spacing="1.8" text-anchor="end">2,500,000</text>
<text x="337.2" y="69.5" font-family="'Liberation Sans', sans-serif" font-weight="bold" font-size="47.5" letter-spacing="1.8" text-anchor="end">3,000,000</text>
<text x="375.2" y="1427.2" font-family="'Liberation Sans', sans-serif" font-weight="bold" font-size="47.5" letter-spacing="1.8" text-anchor="middle">250</text>
<text x="791.1" y="1427.2" font-family="'Liberation Sans', sans-serif" font-weight="bold" font-size="47.5" letter-spacing="1.8" text-anchor="middle">275</text>
<text x="1207.0" y="1427.2" font-family="'Liberation Sans', sans-serif" font-weight="bold" font-size="47.5" letter-spacing="1.8" text-anchor="middle">300</text>
<text x="1622.8" y="1427.2" font-family="'Liberation Sans', sans-serif" font-weight="bold" font-size="47.5" letter-spacing="1.8" text-anchor="middle">325</text>
<text x="2038.7" y="1427.2" font-family="'Liberation Sans', sans-serif" font-weight="bold" font-size="47.5" letter-spacing="1.8" text-anchor="middle">350</text>
<text x="1150" y="1491" font-family="'Liberation Sans', sans-serif" font-weight="bold" font-size="63.5" text-anchor="middle">Wavelength (nm)</text>
<text transform="translate(86.6 681.5) scale(1.075 1) rotate(-90)" font-family="'Liberation Sans', sans-serif" font-weight="bold" font-size="63.5" text-anchor="middle">Intensity (a.u.)</text>
<path d="M1578 107.9H1727.3" stroke="#008000" stroke-width="7.5"/>
<path d="M1578 204.9H1727.3" stroke="#FF00FF" stroke-width="7.5"/>
<text x="1742.6" y="227.5" font-family="'Liberation Sans', sans-serif" font-size="62.5" letter-spacing="1.55">0.1ml</text>
<path d="M1578 284.4H1727.3" stroke="#800080" stroke-width="7.5"/>
<text x="1742.6" y="305.6" font-family="'Liberation Sans', sans-serif" font-size="62.5" letter-spacing="1.55">0.5ml</text>
<path d="M1578 360.4H1727.3" stroke="#800000" stroke-width="7.5"/>
<text x="1742.6" y="383.1" font-family="'Liberation Sans', sans-serif" font-size="62.5" letter-spacing="1.55">1.0ml</text>
<path d="M1583 446.0H1734.5" stroke="#000000" stroke-width="7.5"/>
<text x="1746.9" y="468.0" font-family="'Liberation Sans', sans-serif" font-size="62.5" letter-spacing="2.1">2.0ml</text>
<path d="M1583 524.9H1734.5" stroke="#FF0000" stroke-width="7.5"/>
<text x="1746.9" y="545.6" font-family="'Liberation Sans', sans-serif" font-size="62.5" letter-spacing="2.1">4.0ml</text>
<path d="M1583 602.3H1734.5" stroke="#0000FF" stroke-width="7.5"/>
<text x="1746.9" y="623.0" font-family="'Liberation Sans', sans-serif" font-size="62.5" letter-spacing="2.1">6.0ml</text>
<path d="M1583 681.0H1734.5" stroke="#008080" stroke-width="7.5"/>
<text x="1746.9" y="700.5" font-family="'Liberation Sans', sans-serif" font-size="62.5" letter-spacing="2.1">8.0ml</text>
<text x="1740.8" y="128.2" font-family="'Liberation Sans', sans-serif" font-size="62.5" letter-spacing="3.3">YF</text>
<text transform="translate(1826 152) scale(1.12 1)" font-family="'Liberation Sans', sans-serif" font-size="33">3</text>
<text x="1845.5" y="128.2" font-family="'Liberation Sans', sans-serif" font-size="62.5">:</text>
<text x="1883" y="128.2" font-family="'Liberation Sans', sans-serif" font-size="62.5" letter-spacing="1.5">Ho</text>
<text x="1967" y="93.5" font-family="'Liberation Sans', sans-serif" font-size="35" letter-spacing="0.5">3+</text>
</svg>
</body></html>
